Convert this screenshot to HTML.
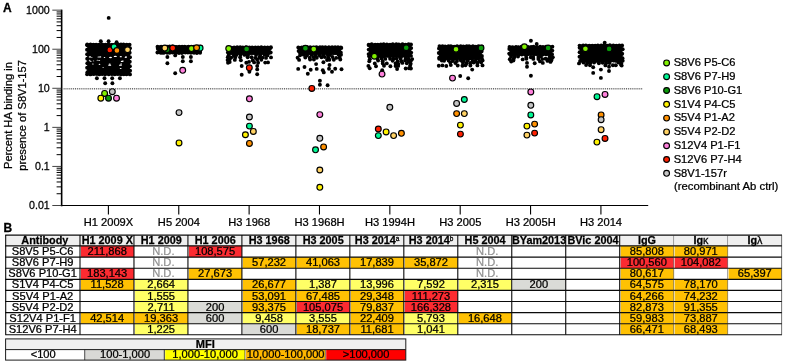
<!DOCTYPE html>
<html><head><meta charset="utf-8"><title>Figure</title>
<style>html,body{margin:0;padding:0;background:#fff}svg{display:block}</style>
</head><body>
<svg width="785" height="364" viewBox="0 0 785 364">
<rect width="785" height="364" fill="#fff"/>
<g transform="translate(0.2,0.2)">
<g fill="#000">
<circle cx="87.0" cy="44.2" r="1.95"/>
<circle cx="90.3" cy="44.2" r="1.95"/>
<circle cx="93.2" cy="44.4" r="1.95"/>
<circle cx="95.9" cy="44.5" r="1.95"/>
<circle cx="98.9" cy="44.4" r="1.95"/>
<circle cx="102.0" cy="44.2" r="1.95"/>
<circle cx="105.3" cy="44.6" r="1.95"/>
<circle cx="108.1" cy="44.3" r="1.95"/>
<circle cx="111.5" cy="44.7" r="1.95"/>
<circle cx="114.5" cy="44.4" r="1.95"/>
<circle cx="117.9" cy="44.2" r="1.95"/>
<circle cx="120.8" cy="44.3" r="1.95"/>
<circle cx="123.3" cy="44.2" r="1.95"/>
<circle cx="126.5" cy="44.6" r="1.95"/>
<circle cx="129.4" cy="44.5" r="1.95"/>
<circle cx="88.9" cy="45.1" r="1.95"/>
<circle cx="90.8" cy="45.1" r="1.95"/>
<circle cx="92.6" cy="45.1" r="1.95"/>
<circle cx="94.5" cy="45.1" r="1.95"/>
<circle cx="96.3" cy="45.1" r="1.95"/>
<circle cx="98.2" cy="45.1" r="1.95"/>
<circle cx="100.1" cy="45.1" r="1.95"/>
<circle cx="101.9" cy="45.1" r="1.95"/>
<circle cx="103.8" cy="45.1" r="1.95"/>
<circle cx="105.6" cy="45.1" r="1.95"/>
<circle cx="107.5" cy="45.1" r="1.95"/>
<circle cx="109.3" cy="45.1" r="1.95"/>
<circle cx="111.2" cy="45.1" r="1.95"/>
<circle cx="113.0" cy="45.1" r="1.95"/>
<circle cx="114.9" cy="45.1" r="1.95"/>
<circle cx="116.7" cy="45.1" r="1.95"/>
<circle cx="118.6" cy="45.1" r="1.95"/>
<circle cx="120.5" cy="45.1" r="1.95"/>
<circle cx="122.3" cy="45.1" r="1.95"/>
<circle cx="124.2" cy="45.1" r="1.95"/>
<circle cx="126.0" cy="45.1" r="1.95"/>
<circle cx="127.9" cy="45.1" r="1.95"/>
<circle cx="87.0" cy="45.1" r="1.95"/>
<circle cx="88.9" cy="46.6" r="1.95"/>
<circle cx="90.8" cy="46.6" r="1.95"/>
<circle cx="92.6" cy="46.6" r="1.95"/>
<circle cx="94.5" cy="46.6" r="1.95"/>
<circle cx="96.3" cy="46.6" r="1.95"/>
<circle cx="98.2" cy="46.6" r="1.95"/>
<circle cx="100.1" cy="46.6" r="1.95"/>
<circle cx="101.9" cy="46.6" r="1.95"/>
<circle cx="103.8" cy="46.6" r="1.95"/>
<circle cx="105.6" cy="46.6" r="1.95"/>
<circle cx="107.5" cy="46.6" r="1.95"/>
<circle cx="109.3" cy="46.6" r="1.95"/>
<circle cx="111.2" cy="46.6" r="1.95"/>
<circle cx="113.0" cy="46.6" r="1.95"/>
<circle cx="114.9" cy="46.6" r="1.95"/>
<circle cx="116.7" cy="46.6" r="1.95"/>
<circle cx="118.6" cy="46.6" r="1.95"/>
<circle cx="120.5" cy="46.6" r="1.95"/>
<circle cx="122.3" cy="46.6" r="1.95"/>
<circle cx="124.2" cy="46.6" r="1.95"/>
<circle cx="126.0" cy="46.6" r="1.95"/>
<circle cx="127.9" cy="46.6" r="1.95"/>
<circle cx="88.9" cy="48.1" r="1.95"/>
<circle cx="90.8" cy="48.1" r="1.95"/>
<circle cx="92.6" cy="48.1" r="1.95"/>
<circle cx="94.5" cy="48.1" r="1.95"/>
<circle cx="96.3" cy="48.1" r="1.95"/>
<circle cx="98.2" cy="48.1" r="1.95"/>
<circle cx="100.1" cy="48.1" r="1.95"/>
<circle cx="101.9" cy="48.1" r="1.95"/>
<circle cx="103.8" cy="48.1" r="1.95"/>
<circle cx="105.6" cy="48.1" r="1.95"/>
<circle cx="107.5" cy="48.1" r="1.95"/>
<circle cx="109.3" cy="48.1" r="1.95"/>
<circle cx="111.2" cy="48.1" r="1.95"/>
<circle cx="113.0" cy="48.1" r="1.95"/>
<circle cx="114.9" cy="48.1" r="1.95"/>
<circle cx="116.7" cy="48.1" r="1.95"/>
<circle cx="118.6" cy="48.1" r="1.95"/>
<circle cx="120.5" cy="48.1" r="1.95"/>
<circle cx="122.3" cy="48.1" r="1.95"/>
<circle cx="124.2" cy="48.1" r="1.95"/>
<circle cx="126.0" cy="48.1" r="1.95"/>
<circle cx="127.9" cy="48.1" r="1.95"/>
<circle cx="129.8" cy="48.1" r="1.95"/>
<circle cx="88.9" cy="49.6" r="1.95"/>
<circle cx="90.8" cy="49.6" r="1.95"/>
<circle cx="92.6" cy="49.6" r="1.95"/>
<circle cx="94.5" cy="49.6" r="1.95"/>
<circle cx="96.3" cy="49.6" r="1.95"/>
<circle cx="98.2" cy="49.6" r="1.95"/>
<circle cx="100.1" cy="49.6" r="1.95"/>
<circle cx="101.9" cy="49.6" r="1.95"/>
<circle cx="103.8" cy="49.6" r="1.95"/>
<circle cx="105.6" cy="49.6" r="1.95"/>
<circle cx="107.5" cy="49.6" r="1.95"/>
<circle cx="109.3" cy="49.6" r="1.95"/>
<circle cx="111.2" cy="49.6" r="1.95"/>
<circle cx="113.0" cy="49.6" r="1.95"/>
<circle cx="114.9" cy="49.6" r="1.95"/>
<circle cx="116.7" cy="49.6" r="1.95"/>
<circle cx="118.6" cy="49.6" r="1.95"/>
<circle cx="120.5" cy="49.6" r="1.95"/>
<circle cx="122.3" cy="49.6" r="1.95"/>
<circle cx="124.2" cy="49.6" r="1.95"/>
<circle cx="126.0" cy="49.6" r="1.95"/>
<circle cx="127.9" cy="49.6" r="1.95"/>
<circle cx="86.8" cy="49.6" r="1.95"/>
<circle cx="88.9" cy="51.1" r="1.95"/>
<circle cx="90.8" cy="51.1" r="1.95"/>
<circle cx="92.6" cy="51.1" r="1.95"/>
<circle cx="94.5" cy="51.1" r="1.95"/>
<circle cx="96.3" cy="51.1" r="1.95"/>
<circle cx="98.2" cy="51.1" r="1.95"/>
<circle cx="100.1" cy="51.1" r="1.95"/>
<circle cx="101.9" cy="51.1" r="1.95"/>
<circle cx="103.8" cy="51.1" r="1.95"/>
<circle cx="105.6" cy="51.1" r="1.95"/>
<circle cx="107.5" cy="51.1" r="1.95"/>
<circle cx="109.3" cy="51.1" r="1.95"/>
<circle cx="111.2" cy="51.1" r="1.95"/>
<circle cx="113.0" cy="51.1" r="1.95"/>
<circle cx="114.9" cy="51.1" r="1.95"/>
<circle cx="116.7" cy="51.1" r="1.95"/>
<circle cx="118.6" cy="51.1" r="1.95"/>
<circle cx="120.5" cy="51.1" r="1.95"/>
<circle cx="122.3" cy="51.1" r="1.95"/>
<circle cx="124.2" cy="51.1" r="1.95"/>
<circle cx="126.0" cy="51.1" r="1.95"/>
<circle cx="127.9" cy="51.1" r="1.95"/>
<circle cx="88.9" cy="52.6" r="1.95"/>
<circle cx="90.8" cy="52.6" r="1.95"/>
<circle cx="92.6" cy="52.6" r="1.95"/>
<circle cx="94.5" cy="52.6" r="1.95"/>
<circle cx="96.3" cy="52.6" r="1.95"/>
<circle cx="98.2" cy="52.6" r="1.95"/>
<circle cx="100.1" cy="52.6" r="1.95"/>
<circle cx="101.9" cy="52.6" r="1.95"/>
<circle cx="103.8" cy="52.6" r="1.95"/>
<circle cx="105.6" cy="52.6" r="1.95"/>
<circle cx="107.5" cy="52.6" r="1.95"/>
<circle cx="109.3" cy="52.6" r="1.95"/>
<circle cx="111.2" cy="52.6" r="1.95"/>
<circle cx="113.0" cy="52.6" r="1.95"/>
<circle cx="114.9" cy="52.6" r="1.95"/>
<circle cx="116.7" cy="52.6" r="1.95"/>
<circle cx="118.6" cy="52.6" r="1.95"/>
<circle cx="120.5" cy="52.6" r="1.95"/>
<circle cx="122.3" cy="52.6" r="1.95"/>
<circle cx="124.2" cy="52.6" r="1.95"/>
<circle cx="126.0" cy="52.6" r="1.95"/>
<circle cx="127.9" cy="52.6" r="1.95"/>
<circle cx="129.5" cy="52.6" r="1.95"/>
<circle cx="88.9" cy="54.1" r="1.95"/>
<circle cx="90.8" cy="54.1" r="1.95"/>
<circle cx="92.6" cy="54.1" r="1.95"/>
<circle cx="94.5" cy="54.1" r="1.95"/>
<circle cx="96.3" cy="54.1" r="1.95"/>
<circle cx="98.2" cy="54.1" r="1.95"/>
<circle cx="100.1" cy="54.1" r="1.95"/>
<circle cx="101.9" cy="54.1" r="1.95"/>
<circle cx="103.8" cy="54.1" r="1.95"/>
<circle cx="105.6" cy="54.1" r="1.95"/>
<circle cx="107.5" cy="54.1" r="1.95"/>
<circle cx="109.3" cy="54.1" r="1.95"/>
<circle cx="111.2" cy="54.1" r="1.95"/>
<circle cx="113.0" cy="54.1" r="1.95"/>
<circle cx="114.9" cy="54.1" r="1.95"/>
<circle cx="116.7" cy="54.1" r="1.95"/>
<circle cx="118.6" cy="54.1" r="1.95"/>
<circle cx="120.5" cy="54.1" r="1.95"/>
<circle cx="122.3" cy="54.1" r="1.95"/>
<circle cx="124.2" cy="54.1" r="1.95"/>
<circle cx="126.0" cy="54.1" r="1.95"/>
<circle cx="127.9" cy="54.1" r="1.95"/>
<circle cx="86.9" cy="54.1" r="1.95"/>
<circle cx="88.9" cy="55.6" r="1.95"/>
<circle cx="90.8" cy="55.6" r="1.95"/>
<circle cx="92.6" cy="55.6" r="1.95"/>
<circle cx="94.5" cy="55.6" r="1.95"/>
<circle cx="96.3" cy="55.6" r="1.95"/>
<circle cx="98.2" cy="55.6" r="1.95"/>
<circle cx="100.1" cy="55.6" r="1.95"/>
<circle cx="101.9" cy="55.6" r="1.95"/>
<circle cx="103.8" cy="55.6" r="1.95"/>
<circle cx="105.6" cy="55.6" r="1.95"/>
<circle cx="107.5" cy="55.6" r="1.95"/>
<circle cx="109.3" cy="55.6" r="1.95"/>
<circle cx="111.2" cy="55.6" r="1.95"/>
<circle cx="113.0" cy="55.6" r="1.95"/>
<circle cx="114.9" cy="55.6" r="1.95"/>
<circle cx="116.7" cy="55.6" r="1.95"/>
<circle cx="118.6" cy="55.6" r="1.95"/>
<circle cx="120.5" cy="55.6" r="1.95"/>
<circle cx="122.3" cy="55.6" r="1.95"/>
<circle cx="124.2" cy="55.6" r="1.95"/>
<circle cx="126.0" cy="55.6" r="1.95"/>
<circle cx="127.9" cy="55.6" r="1.95"/>
<circle cx="88.9" cy="57.1" r="1.95"/>
<circle cx="90.8" cy="57.1" r="1.95"/>
<circle cx="92.6" cy="57.1" r="1.95"/>
<circle cx="94.5" cy="57.1" r="1.95"/>
<circle cx="96.3" cy="57.1" r="1.95"/>
<circle cx="98.2" cy="57.1" r="1.95"/>
<circle cx="100.1" cy="57.1" r="1.95"/>
<circle cx="101.9" cy="57.1" r="1.95"/>
<circle cx="103.8" cy="57.1" r="1.95"/>
<circle cx="105.6" cy="57.1" r="1.95"/>
<circle cx="107.5" cy="57.1" r="1.95"/>
<circle cx="109.3" cy="57.1" r="1.95"/>
<circle cx="111.2" cy="57.1" r="1.95"/>
<circle cx="113.0" cy="57.1" r="1.95"/>
<circle cx="114.9" cy="57.1" r="1.95"/>
<circle cx="116.7" cy="57.1" r="1.95"/>
<circle cx="118.6" cy="57.1" r="1.95"/>
<circle cx="120.5" cy="57.1" r="1.95"/>
<circle cx="122.3" cy="57.1" r="1.95"/>
<circle cx="124.2" cy="57.1" r="1.95"/>
<circle cx="126.0" cy="57.1" r="1.95"/>
<circle cx="127.9" cy="57.1" r="1.95"/>
<circle cx="129.8" cy="57.1" r="1.95"/>
<circle cx="88.9" cy="58.6" r="1.95"/>
<circle cx="90.8" cy="58.6" r="1.95"/>
<circle cx="92.6" cy="58.6" r="1.95"/>
<circle cx="94.5" cy="58.6" r="1.95"/>
<circle cx="96.3" cy="58.6" r="1.95"/>
<circle cx="98.2" cy="58.6" r="1.95"/>
<circle cx="100.1" cy="58.6" r="1.95"/>
<circle cx="101.9" cy="58.6" r="1.95"/>
<circle cx="103.8" cy="58.6" r="1.95"/>
<circle cx="105.6" cy="58.6" r="1.95"/>
<circle cx="107.5" cy="58.6" r="1.95"/>
<circle cx="109.3" cy="58.6" r="1.95"/>
<circle cx="111.2" cy="58.6" r="1.95"/>
<circle cx="113.0" cy="58.6" r="1.95"/>
<circle cx="114.9" cy="58.6" r="1.95"/>
<circle cx="116.7" cy="58.6" r="1.95"/>
<circle cx="118.6" cy="58.6" r="1.95"/>
<circle cx="120.5" cy="58.6" r="1.95"/>
<circle cx="122.3" cy="58.6" r="1.95"/>
<circle cx="124.2" cy="58.6" r="1.95"/>
<circle cx="126.0" cy="58.6" r="1.95"/>
<circle cx="127.9" cy="58.6" r="1.95"/>
<circle cx="87.0" cy="58.6" r="1.95"/>
<circle cx="88.9" cy="60.1" r="1.95"/>
<circle cx="90.8" cy="60.1" r="1.95"/>
<circle cx="92.6" cy="60.1" r="1.95"/>
<circle cx="94.5" cy="60.1" r="1.95"/>
<circle cx="96.3" cy="60.1" r="1.95"/>
<circle cx="98.2" cy="60.1" r="1.95"/>
<circle cx="100.1" cy="60.1" r="1.95"/>
<circle cx="101.9" cy="60.1" r="1.95"/>
<circle cx="103.8" cy="60.1" r="1.95"/>
<circle cx="105.6" cy="60.1" r="1.95"/>
<circle cx="107.5" cy="60.1" r="1.95"/>
<circle cx="109.3" cy="60.1" r="1.95"/>
<circle cx="111.2" cy="60.1" r="1.95"/>
<circle cx="113.0" cy="60.1" r="1.95"/>
<circle cx="114.9" cy="60.1" r="1.95"/>
<circle cx="116.7" cy="60.1" r="1.95"/>
<circle cx="118.6" cy="60.1" r="1.95"/>
<circle cx="120.5" cy="60.1" r="1.95"/>
<circle cx="122.3" cy="60.1" r="1.95"/>
<circle cx="124.2" cy="60.1" r="1.95"/>
<circle cx="126.0" cy="60.1" r="1.95"/>
<circle cx="127.9" cy="60.1" r="1.95"/>
<circle cx="88.9" cy="61.6" r="1.95"/>
<circle cx="90.8" cy="61.6" r="1.95"/>
<circle cx="92.6" cy="61.6" r="1.95"/>
<circle cx="94.5" cy="61.6" r="1.95"/>
<circle cx="96.3" cy="61.6" r="1.95"/>
<circle cx="98.2" cy="61.6" r="1.95"/>
<circle cx="100.1" cy="61.6" r="1.95"/>
<circle cx="101.9" cy="61.6" r="1.95"/>
<circle cx="103.8" cy="61.6" r="1.95"/>
<circle cx="105.6" cy="61.6" r="1.95"/>
<circle cx="107.5" cy="61.6" r="1.95"/>
<circle cx="109.3" cy="61.6" r="1.95"/>
<circle cx="111.2" cy="61.6" r="1.95"/>
<circle cx="113.0" cy="61.6" r="1.95"/>
<circle cx="114.9" cy="61.6" r="1.95"/>
<circle cx="116.7" cy="61.6" r="1.95"/>
<circle cx="118.6" cy="61.6" r="1.95"/>
<circle cx="120.5" cy="61.6" r="1.95"/>
<circle cx="122.3" cy="61.6" r="1.95"/>
<circle cx="124.2" cy="61.6" r="1.95"/>
<circle cx="126.0" cy="61.6" r="1.95"/>
<circle cx="127.9" cy="61.6" r="1.95"/>
<circle cx="129.6" cy="61.6" r="1.95"/>
<circle cx="88.9" cy="63.1" r="1.95"/>
<circle cx="90.8" cy="63.1" r="1.95"/>
<circle cx="92.6" cy="63.1" r="1.95"/>
<circle cx="94.5" cy="63.1" r="1.95"/>
<circle cx="96.3" cy="63.1" r="1.95"/>
<circle cx="98.2" cy="63.1" r="1.95"/>
<circle cx="100.1" cy="63.1" r="1.95"/>
<circle cx="101.9" cy="63.1" r="1.95"/>
<circle cx="103.8" cy="63.1" r="1.95"/>
<circle cx="105.6" cy="63.1" r="1.95"/>
<circle cx="107.5" cy="63.1" r="1.95"/>
<circle cx="109.3" cy="63.1" r="1.95"/>
<circle cx="111.2" cy="63.1" r="1.95"/>
<circle cx="113.0" cy="63.1" r="1.95"/>
<circle cx="114.9" cy="63.1" r="1.95"/>
<circle cx="116.7" cy="63.1" r="1.95"/>
<circle cx="118.6" cy="63.1" r="1.95"/>
<circle cx="120.5" cy="63.1" r="1.95"/>
<circle cx="122.3" cy="63.1" r="1.95"/>
<circle cx="124.2" cy="63.1" r="1.95"/>
<circle cx="126.0" cy="63.1" r="1.95"/>
<circle cx="127.9" cy="63.1" r="1.95"/>
<circle cx="87.1" cy="63.1" r="1.95"/>
<circle cx="88.9" cy="64.6" r="1.95"/>
<circle cx="90.8" cy="64.6" r="1.95"/>
<circle cx="92.6" cy="64.6" r="1.95"/>
<circle cx="94.5" cy="64.6" r="1.95"/>
<circle cx="96.3" cy="64.6" r="1.95"/>
<circle cx="98.2" cy="64.6" r="1.95"/>
<circle cx="100.1" cy="64.6" r="1.95"/>
<circle cx="101.9" cy="64.6" r="1.95"/>
<circle cx="103.8" cy="64.6" r="1.95"/>
<circle cx="105.6" cy="64.6" r="1.95"/>
<circle cx="107.5" cy="64.6" r="1.95"/>
<circle cx="109.3" cy="64.6" r="1.95"/>
<circle cx="111.2" cy="64.6" r="1.95"/>
<circle cx="113.0" cy="64.6" r="1.95"/>
<circle cx="114.9" cy="64.6" r="1.95"/>
<circle cx="116.7" cy="64.6" r="1.95"/>
<circle cx="118.6" cy="64.6" r="1.95"/>
<circle cx="120.5" cy="64.6" r="1.95"/>
<circle cx="122.3" cy="64.6" r="1.95"/>
<circle cx="124.2" cy="64.6" r="1.95"/>
<circle cx="126.0" cy="64.6" r="1.95"/>
<circle cx="127.9" cy="64.6" r="1.95"/>
<circle cx="88.9" cy="66.1" r="1.95"/>
<circle cx="90.8" cy="66.1" r="1.95"/>
<circle cx="92.6" cy="66.1" r="1.95"/>
<circle cx="94.5" cy="66.1" r="1.95"/>
<circle cx="96.3" cy="66.1" r="1.95"/>
<circle cx="98.2" cy="66.1" r="1.95"/>
<circle cx="100.1" cy="66.1" r="1.95"/>
<circle cx="101.9" cy="66.1" r="1.95"/>
<circle cx="103.8" cy="66.1" r="1.95"/>
<circle cx="105.6" cy="66.1" r="1.95"/>
<circle cx="107.5" cy="66.1" r="1.95"/>
<circle cx="109.3" cy="66.1" r="1.95"/>
<circle cx="111.2" cy="66.1" r="1.95"/>
<circle cx="113.0" cy="66.1" r="1.95"/>
<circle cx="114.9" cy="66.1" r="1.95"/>
<circle cx="116.7" cy="66.1" r="1.95"/>
<circle cx="118.6" cy="66.1" r="1.95"/>
<circle cx="120.5" cy="66.1" r="1.95"/>
<circle cx="122.3" cy="66.1" r="1.95"/>
<circle cx="124.2" cy="66.1" r="1.95"/>
<circle cx="126.0" cy="66.1" r="1.95"/>
<circle cx="127.9" cy="66.1" r="1.95"/>
<circle cx="129.7" cy="66.1" r="1.95"/>
<circle cx="88.9" cy="67.6" r="1.95"/>
<circle cx="90.8" cy="67.6" r="1.95"/>
<circle cx="92.6" cy="67.6" r="1.95"/>
<circle cx="94.5" cy="67.6" r="1.95"/>
<circle cx="96.3" cy="67.6" r="1.95"/>
<circle cx="98.2" cy="67.6" r="1.95"/>
<circle cx="100.1" cy="67.6" r="1.95"/>
<circle cx="101.9" cy="67.6" r="1.95"/>
<circle cx="103.8" cy="67.6" r="1.95"/>
<circle cx="105.6" cy="67.6" r="1.95"/>
<circle cx="107.5" cy="67.6" r="1.95"/>
<circle cx="109.3" cy="67.6" r="1.95"/>
<circle cx="111.2" cy="67.6" r="1.95"/>
<circle cx="113.0" cy="67.6" r="1.95"/>
<circle cx="114.9" cy="67.6" r="1.95"/>
<circle cx="116.7" cy="67.6" r="1.95"/>
<circle cx="118.6" cy="67.6" r="1.95"/>
<circle cx="120.5" cy="67.6" r="1.95"/>
<circle cx="122.3" cy="67.6" r="1.95"/>
<circle cx="124.2" cy="67.6" r="1.95"/>
<circle cx="126.0" cy="67.6" r="1.95"/>
<circle cx="127.9" cy="67.6" r="1.95"/>
<circle cx="86.9" cy="67.6" r="1.95"/>
<circle cx="88.9" cy="69.1" r="1.95"/>
<circle cx="90.8" cy="69.1" r="1.95"/>
<circle cx="92.6" cy="69.1" r="1.95"/>
<circle cx="94.5" cy="69.1" r="1.95"/>
<circle cx="96.3" cy="69.1" r="1.95"/>
<circle cx="98.2" cy="69.1" r="1.95"/>
<circle cx="100.1" cy="69.1" r="1.95"/>
<circle cx="101.9" cy="69.1" r="1.95"/>
<circle cx="103.8" cy="69.1" r="1.95"/>
<circle cx="105.6" cy="69.1" r="1.95"/>
<circle cx="107.5" cy="69.1" r="1.95"/>
<circle cx="109.3" cy="69.1" r="1.95"/>
<circle cx="111.2" cy="69.1" r="1.95"/>
<circle cx="113.0" cy="69.1" r="1.95"/>
<circle cx="114.9" cy="69.1" r="1.95"/>
<circle cx="116.7" cy="69.1" r="1.95"/>
<circle cx="118.6" cy="69.1" r="1.95"/>
<circle cx="120.5" cy="69.1" r="1.95"/>
<circle cx="122.3" cy="69.1" r="1.95"/>
<circle cx="124.2" cy="69.1" r="1.95"/>
<circle cx="126.0" cy="69.1" r="1.95"/>
<circle cx="127.9" cy="69.1" r="1.95"/>
<circle cx="88.9" cy="70.6" r="1.95"/>
<circle cx="90.8" cy="70.6" r="1.95"/>
<circle cx="92.6" cy="70.6" r="1.95"/>
<circle cx="94.5" cy="70.6" r="1.95"/>
<circle cx="96.3" cy="70.6" r="1.95"/>
<circle cx="98.2" cy="70.6" r="1.95"/>
<circle cx="100.1" cy="70.6" r="1.95"/>
<circle cx="101.9" cy="70.6" r="1.95"/>
<circle cx="103.8" cy="70.6" r="1.95"/>
<circle cx="105.6" cy="70.6" r="1.95"/>
<circle cx="107.5" cy="70.6" r="1.95"/>
<circle cx="109.3" cy="70.6" r="1.95"/>
<circle cx="111.2" cy="70.6" r="1.95"/>
<circle cx="113.0" cy="70.6" r="1.95"/>
<circle cx="114.9" cy="70.6" r="1.95"/>
<circle cx="116.7" cy="70.6" r="1.95"/>
<circle cx="118.6" cy="70.6" r="1.95"/>
<circle cx="120.5" cy="70.6" r="1.95"/>
<circle cx="122.3" cy="70.6" r="1.95"/>
<circle cx="124.2" cy="70.6" r="1.95"/>
<circle cx="126.0" cy="70.6" r="1.95"/>
<circle cx="127.9" cy="70.6" r="1.95"/>
<circle cx="129.9" cy="70.6" r="1.95"/>
<circle cx="88.9" cy="72.1" r="1.95"/>
<circle cx="90.8" cy="72.1" r="1.95"/>
<circle cx="92.6" cy="72.1" r="1.95"/>
<circle cx="94.5" cy="72.1" r="1.95"/>
<circle cx="96.3" cy="72.1" r="1.95"/>
<circle cx="98.2" cy="72.1" r="1.95"/>
<circle cx="100.1" cy="72.1" r="1.95"/>
<circle cx="101.9" cy="72.1" r="1.95"/>
<circle cx="103.8" cy="72.1" r="1.95"/>
<circle cx="105.6" cy="72.1" r="1.95"/>
<circle cx="107.5" cy="72.1" r="1.95"/>
<circle cx="109.3" cy="72.1" r="1.95"/>
<circle cx="111.2" cy="72.1" r="1.95"/>
<circle cx="113.0" cy="72.1" r="1.95"/>
<circle cx="114.9" cy="72.1" r="1.95"/>
<circle cx="116.7" cy="72.1" r="1.95"/>
<circle cx="118.6" cy="72.1" r="1.95"/>
<circle cx="120.5" cy="72.1" r="1.95"/>
<circle cx="122.3" cy="72.1" r="1.95"/>
<circle cx="124.2" cy="72.1" r="1.95"/>
<circle cx="126.0" cy="72.1" r="1.95"/>
<circle cx="127.9" cy="72.1" r="1.95"/>
<circle cx="87.2" cy="72.1" r="1.95"/>
<circle cx="88.9" cy="73.3" r="1.95"/>
<circle cx="90.8" cy="73.3" r="1.95"/>
<circle cx="92.6" cy="73.3" r="1.95"/>
<circle cx="94.5" cy="73.3" r="1.95"/>
<circle cx="96.3" cy="73.3" r="1.95"/>
<circle cx="98.2" cy="73.3" r="1.95"/>
<circle cx="100.1" cy="73.3" r="1.95"/>
<circle cx="101.9" cy="73.3" r="1.95"/>
<circle cx="103.8" cy="73.3" r="1.95"/>
<circle cx="105.6" cy="73.3" r="1.95"/>
<circle cx="107.5" cy="73.3" r="1.95"/>
<circle cx="109.3" cy="73.3" r="1.95"/>
<circle cx="111.2" cy="73.3" r="1.95"/>
<circle cx="113.0" cy="73.3" r="1.95"/>
<circle cx="114.9" cy="73.3" r="1.95"/>
<circle cx="116.7" cy="73.3" r="1.95"/>
<circle cx="118.6" cy="73.3" r="1.95"/>
<circle cx="120.5" cy="73.3" r="1.95"/>
<circle cx="122.3" cy="73.3" r="1.95"/>
<circle cx="124.2" cy="73.3" r="1.95"/>
<circle cx="126.0" cy="73.3" r="1.95"/>
<circle cx="127.9" cy="73.3" r="1.95"/>
<circle cx="86.9" cy="74.0" r="1.95"/>
<circle cx="90.2" cy="74.2" r="1.95"/>
<circle cx="93.4" cy="73.8" r="1.95"/>
<circle cx="96.6" cy="73.7" r="1.95"/>
<circle cx="99.2" cy="74.1" r="1.95"/>
<circle cx="102.0" cy="73.9" r="1.95"/>
<circle cx="105.0" cy="74.1" r="1.95"/>
<circle cx="108.6" cy="74.0" r="1.95"/>
<circle cx="111.7" cy="73.8" r="1.95"/>
<circle cx="114.6" cy="74.0" r="1.95"/>
<circle cx="117.6" cy="73.9" r="1.95"/>
<circle cx="120.8" cy="74.2" r="1.95"/>
<circle cx="123.6" cy="74.0" r="1.95"/>
<circle cx="126.3" cy="74.1" r="1.95"/>
<circle cx="129.8" cy="74.2" r="1.95"/>
<circle cx="100.6" cy="41.0" r="1.95"/>
<circle cx="108.4" cy="41.0" r="1.95"/>
<circle cx="116.4" cy="42.0" r="1.95"/>
<circle cx="108.5" cy="17.7" r="1.95"/>
<circle cx="96.7" cy="78.0" r="1.95"/>
<circle cx="104.3" cy="78.0" r="1.95"/>
<circle cx="112.0" cy="78.0" r="1.95"/>
<circle cx="119.7" cy="78.0" r="1.95"/>
<circle cx="105.0" cy="83.1" r="1.95"/>
<circle cx="112.2" cy="83.1" r="1.95"/>
<circle cx="157.3" cy="46.6" r="1.95"/>
<circle cx="160.9" cy="46.4" r="1.95"/>
<circle cx="163.9" cy="46.7" r="1.95"/>
<circle cx="167.0" cy="46.4" r="1.95"/>
<circle cx="169.4" cy="46.3" r="1.95"/>
<circle cx="172.4" cy="46.3" r="1.95"/>
<circle cx="175.8" cy="46.7" r="1.95"/>
<circle cx="179.0" cy="46.4" r="1.95"/>
<circle cx="181.9" cy="46.6" r="1.95"/>
<circle cx="184.5" cy="46.5" r="1.95"/>
<circle cx="188.2" cy="46.6" r="1.95"/>
<circle cx="191.1" cy="46.4" r="1.95"/>
<circle cx="193.7" cy="46.6" r="1.95"/>
<circle cx="196.9" cy="46.6" r="1.95"/>
<circle cx="200.4" cy="46.4" r="1.95"/>
<circle cx="159.3" cy="47.1" r="1.95"/>
<circle cx="161.1" cy="47.1" r="1.95"/>
<circle cx="163.0" cy="47.1" r="1.95"/>
<circle cx="164.8" cy="47.1" r="1.95"/>
<circle cx="166.7" cy="47.1" r="1.95"/>
<circle cx="168.6" cy="47.1" r="1.95"/>
<circle cx="170.4" cy="47.1" r="1.95"/>
<circle cx="172.3" cy="47.1" r="1.95"/>
<circle cx="174.1" cy="47.1" r="1.95"/>
<circle cx="176.0" cy="47.1" r="1.95"/>
<circle cx="177.8" cy="47.1" r="1.95"/>
<circle cx="179.7" cy="47.1" r="1.95"/>
<circle cx="181.5" cy="47.1" r="1.95"/>
<circle cx="183.4" cy="47.1" r="1.95"/>
<circle cx="185.3" cy="47.1" r="1.95"/>
<circle cx="187.1" cy="47.1" r="1.95"/>
<circle cx="189.0" cy="47.1" r="1.95"/>
<circle cx="190.8" cy="47.1" r="1.95"/>
<circle cx="192.7" cy="47.1" r="1.95"/>
<circle cx="194.5" cy="47.1" r="1.95"/>
<circle cx="196.4" cy="47.1" r="1.95"/>
<circle cx="198.2" cy="47.1" r="1.95"/>
<circle cx="200.4" cy="47.1" r="1.95"/>
<circle cx="159.3" cy="48.6" r="1.95"/>
<circle cx="161.1" cy="48.6" r="1.95"/>
<circle cx="163.0" cy="48.6" r="1.95"/>
<circle cx="164.8" cy="48.6" r="1.95"/>
<circle cx="166.7" cy="48.6" r="1.95"/>
<circle cx="168.6" cy="48.6" r="1.95"/>
<circle cx="170.4" cy="48.6" r="1.95"/>
<circle cx="172.3" cy="48.6" r="1.95"/>
<circle cx="174.1" cy="48.6" r="1.95"/>
<circle cx="176.0" cy="48.6" r="1.95"/>
<circle cx="177.8" cy="48.6" r="1.95"/>
<circle cx="179.7" cy="48.6" r="1.95"/>
<circle cx="181.5" cy="48.6" r="1.95"/>
<circle cx="183.4" cy="48.6" r="1.95"/>
<circle cx="185.3" cy="48.6" r="1.95"/>
<circle cx="187.1" cy="48.6" r="1.95"/>
<circle cx="189.0" cy="48.6" r="1.95"/>
<circle cx="190.8" cy="48.6" r="1.95"/>
<circle cx="192.7" cy="48.6" r="1.95"/>
<circle cx="194.5" cy="48.6" r="1.95"/>
<circle cx="196.4" cy="48.6" r="1.95"/>
<circle cx="198.2" cy="48.6" r="1.95"/>
<circle cx="157.6" cy="48.6" r="1.95"/>
<circle cx="159.3" cy="50.1" r="1.95"/>
<circle cx="161.1" cy="50.1" r="1.95"/>
<circle cx="163.0" cy="50.1" r="1.95"/>
<circle cx="164.8" cy="50.1" r="1.95"/>
<circle cx="166.7" cy="50.1" r="1.95"/>
<circle cx="168.6" cy="50.1" r="1.95"/>
<circle cx="170.4" cy="50.1" r="1.95"/>
<circle cx="172.3" cy="50.1" r="1.95"/>
<circle cx="174.1" cy="50.1" r="1.95"/>
<circle cx="176.0" cy="50.1" r="1.95"/>
<circle cx="177.8" cy="50.1" r="1.95"/>
<circle cx="179.7" cy="50.1" r="1.95"/>
<circle cx="181.5" cy="50.1" r="1.95"/>
<circle cx="183.4" cy="50.1" r="1.95"/>
<circle cx="185.3" cy="50.1" r="1.95"/>
<circle cx="187.1" cy="50.1" r="1.95"/>
<circle cx="189.0" cy="50.1" r="1.95"/>
<circle cx="190.8" cy="50.1" r="1.95"/>
<circle cx="192.7" cy="50.1" r="1.95"/>
<circle cx="194.5" cy="50.1" r="1.95"/>
<circle cx="196.4" cy="50.1" r="1.95"/>
<circle cx="198.2" cy="50.1" r="1.95"/>
<circle cx="159.3" cy="51.6" r="1.95"/>
<circle cx="161.1" cy="51.6" r="1.95"/>
<circle cx="163.0" cy="51.6" r="1.95"/>
<circle cx="164.8" cy="51.6" r="1.95"/>
<circle cx="166.7" cy="51.6" r="1.95"/>
<circle cx="168.6" cy="51.6" r="1.95"/>
<circle cx="170.4" cy="51.6" r="1.95"/>
<circle cx="172.3" cy="51.6" r="1.95"/>
<circle cx="174.1" cy="51.6" r="1.95"/>
<circle cx="176.0" cy="51.6" r="1.95"/>
<circle cx="177.8" cy="51.6" r="1.95"/>
<circle cx="179.7" cy="51.6" r="1.95"/>
<circle cx="181.5" cy="51.6" r="1.95"/>
<circle cx="183.4" cy="51.6" r="1.95"/>
<circle cx="185.3" cy="51.6" r="1.95"/>
<circle cx="187.1" cy="51.6" r="1.95"/>
<circle cx="189.0" cy="51.6" r="1.95"/>
<circle cx="190.8" cy="51.6" r="1.95"/>
<circle cx="192.7" cy="51.6" r="1.95"/>
<circle cx="194.5" cy="51.6" r="1.95"/>
<circle cx="196.4" cy="51.6" r="1.95"/>
<circle cx="198.2" cy="51.6" r="1.95"/>
<circle cx="199.9" cy="51.6" r="1.95"/>
<circle cx="159.3" cy="51.9" r="1.95"/>
<circle cx="161.1" cy="51.9" r="1.95"/>
<circle cx="163.0" cy="51.9" r="1.95"/>
<circle cx="164.8" cy="51.9" r="1.95"/>
<circle cx="166.7" cy="51.9" r="1.95"/>
<circle cx="168.6" cy="51.9" r="1.95"/>
<circle cx="170.4" cy="51.9" r="1.95"/>
<circle cx="172.3" cy="51.9" r="1.95"/>
<circle cx="174.1" cy="51.9" r="1.95"/>
<circle cx="176.0" cy="51.9" r="1.95"/>
<circle cx="177.8" cy="51.9" r="1.95"/>
<circle cx="179.7" cy="51.9" r="1.95"/>
<circle cx="181.5" cy="51.9" r="1.95"/>
<circle cx="183.4" cy="51.9" r="1.95"/>
<circle cx="185.3" cy="51.9" r="1.95"/>
<circle cx="187.1" cy="51.9" r="1.95"/>
<circle cx="189.0" cy="51.9" r="1.95"/>
<circle cx="190.8" cy="51.9" r="1.95"/>
<circle cx="192.7" cy="51.9" r="1.95"/>
<circle cx="194.5" cy="51.9" r="1.95"/>
<circle cx="196.4" cy="51.9" r="1.95"/>
<circle cx="198.2" cy="51.9" r="1.95"/>
<circle cx="157.2" cy="52.3" r="1.95"/>
<circle cx="160.8" cy="52.7" r="1.95"/>
<circle cx="163.3" cy="52.7" r="1.95"/>
<circle cx="167.0" cy="52.6" r="1.95"/>
<circle cx="169.5" cy="52.6" r="1.95"/>
<circle cx="172.4" cy="52.3" r="1.95"/>
<circle cx="176.1" cy="52.6" r="1.95"/>
<circle cx="178.8" cy="52.8" r="1.95"/>
<circle cx="181.7" cy="52.8" r="1.95"/>
<circle cx="185.1" cy="52.4" r="1.95"/>
<circle cx="187.7" cy="52.4" r="1.95"/>
<circle cx="190.7" cy="52.6" r="1.95"/>
<circle cx="193.8" cy="52.5" r="1.95"/>
<circle cx="196.7" cy="52.8" r="1.95"/>
<circle cx="199.9" cy="52.5" r="1.95"/>
<circle cx="167.2" cy="56.8" r="1.95"/>
<circle cx="175.0" cy="55.2" r="1.95"/>
<circle cx="182.6" cy="56.8" r="1.95"/>
<circle cx="190.7" cy="56.8" r="1.95"/>
<circle cx="167.2" cy="63.0" r="1.95"/>
<circle cx="182.6" cy="61.0" r="1.95"/>
<circle cx="190.7" cy="61.0" r="1.95"/>
<circle cx="175.0" cy="73.0" r="1.95"/>
<circle cx="227.9" cy="47.4" r="1.95"/>
<circle cx="230.8" cy="47.4" r="1.95"/>
<circle cx="233.9" cy="47.2" r="1.95"/>
<circle cx="237.0" cy="46.9" r="1.95"/>
<circle cx="240.0" cy="47.0" r="1.95"/>
<circle cx="242.6" cy="47.3" r="1.95"/>
<circle cx="245.8" cy="47.1" r="1.95"/>
<circle cx="249.3" cy="47.2" r="1.95"/>
<circle cx="252.0" cy="47.2" r="1.95"/>
<circle cx="255.2" cy="47.3" r="1.95"/>
<circle cx="257.9" cy="47.2" r="1.95"/>
<circle cx="261.1" cy="47.0" r="1.95"/>
<circle cx="264.5" cy="47.2" r="1.95"/>
<circle cx="267.4" cy="47.3" r="1.95"/>
<circle cx="270.7" cy="47.1" r="1.95"/>
<circle cx="229.6" cy="47.8" r="1.95"/>
<circle cx="231.5" cy="47.8" r="1.95"/>
<circle cx="233.4" cy="47.8" r="1.95"/>
<circle cx="235.2" cy="47.8" r="1.95"/>
<circle cx="237.1" cy="47.8" r="1.95"/>
<circle cx="238.9" cy="47.8" r="1.95"/>
<circle cx="240.8" cy="47.8" r="1.95"/>
<circle cx="242.6" cy="47.8" r="1.95"/>
<circle cx="244.5" cy="47.8" r="1.95"/>
<circle cx="246.3" cy="47.8" r="1.95"/>
<circle cx="248.2" cy="47.8" r="1.95"/>
<circle cx="250.0" cy="47.8" r="1.95"/>
<circle cx="251.9" cy="47.8" r="1.95"/>
<circle cx="253.8" cy="47.8" r="1.95"/>
<circle cx="255.6" cy="47.8" r="1.95"/>
<circle cx="257.5" cy="47.8" r="1.95"/>
<circle cx="259.3" cy="47.8" r="1.95"/>
<circle cx="261.2" cy="47.8" r="1.95"/>
<circle cx="263.0" cy="47.8" r="1.95"/>
<circle cx="264.9" cy="47.8" r="1.95"/>
<circle cx="266.7" cy="47.8" r="1.95"/>
<circle cx="268.6" cy="47.8" r="1.95"/>
<circle cx="227.9" cy="47.8" r="1.95"/>
<circle cx="270.3" cy="47.8" r="1.95"/>
<circle cx="229.6" cy="49.3" r="1.95"/>
<circle cx="231.5" cy="49.3" r="1.95"/>
<circle cx="233.4" cy="49.3" r="1.95"/>
<circle cx="235.2" cy="49.3" r="1.95"/>
<circle cx="237.1" cy="49.3" r="1.95"/>
<circle cx="238.9" cy="49.3" r="1.95"/>
<circle cx="240.8" cy="49.3" r="1.95"/>
<circle cx="242.6" cy="49.3" r="1.95"/>
<circle cx="244.5" cy="49.3" r="1.95"/>
<circle cx="246.3" cy="49.3" r="1.95"/>
<circle cx="248.2" cy="49.3" r="1.95"/>
<circle cx="250.0" cy="49.3" r="1.95"/>
<circle cx="251.9" cy="49.3" r="1.95"/>
<circle cx="253.8" cy="49.3" r="1.95"/>
<circle cx="255.6" cy="49.3" r="1.95"/>
<circle cx="257.5" cy="49.3" r="1.95"/>
<circle cx="259.3" cy="49.3" r="1.95"/>
<circle cx="261.2" cy="49.3" r="1.95"/>
<circle cx="263.0" cy="49.3" r="1.95"/>
<circle cx="264.9" cy="49.3" r="1.95"/>
<circle cx="266.7" cy="49.3" r="1.95"/>
<circle cx="268.6" cy="49.3" r="1.95"/>
<circle cx="229.6" cy="50.8" r="1.95"/>
<circle cx="231.5" cy="50.8" r="1.95"/>
<circle cx="233.4" cy="50.8" r="1.95"/>
<circle cx="235.2" cy="50.8" r="1.95"/>
<circle cx="237.1" cy="50.8" r="1.95"/>
<circle cx="238.9" cy="50.8" r="1.95"/>
<circle cx="240.8" cy="50.8" r="1.95"/>
<circle cx="242.6" cy="50.8" r="1.95"/>
<circle cx="244.5" cy="50.8" r="1.95"/>
<circle cx="246.3" cy="50.8" r="1.95"/>
<circle cx="248.2" cy="50.8" r="1.95"/>
<circle cx="250.0" cy="50.8" r="1.95"/>
<circle cx="251.9" cy="50.8" r="1.95"/>
<circle cx="253.8" cy="50.8" r="1.95"/>
<circle cx="255.6" cy="50.8" r="1.95"/>
<circle cx="257.5" cy="50.8" r="1.95"/>
<circle cx="259.3" cy="50.8" r="1.95"/>
<circle cx="261.2" cy="50.8" r="1.95"/>
<circle cx="263.0" cy="50.8" r="1.95"/>
<circle cx="264.9" cy="50.8" r="1.95"/>
<circle cx="266.7" cy="50.8" r="1.95"/>
<circle cx="268.6" cy="50.8" r="1.95"/>
<circle cx="229.6" cy="52.3" r="1.95"/>
<circle cx="231.5" cy="52.3" r="1.95"/>
<circle cx="233.4" cy="52.3" r="1.95"/>
<circle cx="235.2" cy="52.3" r="1.95"/>
<circle cx="237.1" cy="52.3" r="1.95"/>
<circle cx="238.9" cy="52.3" r="1.95"/>
<circle cx="240.8" cy="52.3" r="1.95"/>
<circle cx="242.6" cy="52.3" r="1.95"/>
<circle cx="244.5" cy="52.3" r="1.95"/>
<circle cx="246.3" cy="52.3" r="1.95"/>
<circle cx="248.2" cy="52.3" r="1.95"/>
<circle cx="250.0" cy="52.3" r="1.95"/>
<circle cx="251.9" cy="52.3" r="1.95"/>
<circle cx="253.8" cy="52.3" r="1.95"/>
<circle cx="255.6" cy="52.3" r="1.95"/>
<circle cx="257.5" cy="52.3" r="1.95"/>
<circle cx="259.3" cy="52.3" r="1.95"/>
<circle cx="261.2" cy="52.3" r="1.95"/>
<circle cx="263.0" cy="52.3" r="1.95"/>
<circle cx="264.9" cy="52.3" r="1.95"/>
<circle cx="266.7" cy="52.3" r="1.95"/>
<circle cx="268.6" cy="52.3" r="1.95"/>
<circle cx="227.7" cy="52.3" r="1.95"/>
<circle cx="270.5" cy="52.3" r="1.95"/>
<circle cx="229.6" cy="52.9" r="1.95"/>
<circle cx="231.5" cy="52.9" r="1.95"/>
<circle cx="233.4" cy="52.9" r="1.95"/>
<circle cx="235.2" cy="52.9" r="1.95"/>
<circle cx="237.1" cy="52.9" r="1.95"/>
<circle cx="238.9" cy="52.9" r="1.95"/>
<circle cx="240.8" cy="52.9" r="1.95"/>
<circle cx="242.6" cy="52.9" r="1.95"/>
<circle cx="244.5" cy="52.9" r="1.95"/>
<circle cx="246.3" cy="52.9" r="1.95"/>
<circle cx="248.2" cy="52.9" r="1.95"/>
<circle cx="250.0" cy="52.9" r="1.95"/>
<circle cx="251.9" cy="52.9" r="1.95"/>
<circle cx="253.8" cy="52.9" r="1.95"/>
<circle cx="255.6" cy="52.9" r="1.95"/>
<circle cx="257.5" cy="52.9" r="1.95"/>
<circle cx="259.3" cy="52.9" r="1.95"/>
<circle cx="261.2" cy="52.9" r="1.95"/>
<circle cx="263.0" cy="52.9" r="1.95"/>
<circle cx="264.9" cy="52.9" r="1.95"/>
<circle cx="266.7" cy="52.9" r="1.95"/>
<circle cx="268.6" cy="52.9" r="1.95"/>
<circle cx="228.5" cy="55.0" r="1.95"/>
<circle cx="233.6" cy="55.4" r="1.95"/>
<circle cx="236.2" cy="54.9" r="1.95"/>
<circle cx="240.4" cy="54.8" r="1.95"/>
<circle cx="244.4" cy="54.7" r="1.95"/>
<circle cx="247.7" cy="55.3" r="1.95"/>
<circle cx="255.9" cy="54.8" r="1.95"/>
<circle cx="259.9" cy="55.2" r="1.95"/>
<circle cx="264.5" cy="54.7" r="1.95"/>
<circle cx="267.2" cy="55.2" r="1.95"/>
<circle cx="227.6" cy="57.0" r="1.95"/>
<circle cx="231.0" cy="57.4" r="1.95"/>
<circle cx="235.0" cy="57.4" r="1.95"/>
<circle cx="239.9" cy="57.0" r="1.95"/>
<circle cx="247.5" cy="57.0" r="1.95"/>
<circle cx="251.4" cy="57.1" r="1.95"/>
<circle cx="255.1" cy="57.7" r="1.95"/>
<circle cx="259.2" cy="57.3" r="1.95"/>
<circle cx="262.3" cy="57.4" r="1.95"/>
<circle cx="265.8" cy="57.7" r="1.95"/>
<circle cx="270.8" cy="57.2" r="1.95"/>
<circle cx="227.4" cy="59.9" r="1.95"/>
<circle cx="229.4" cy="59.4" r="1.95"/>
<circle cx="234.6" cy="59.7" r="1.95"/>
<circle cx="240.7" cy="60.0" r="1.95"/>
<circle cx="252.5" cy="60.2" r="1.95"/>
<circle cx="257.0" cy="59.5" r="1.95"/>
<circle cx="261.1" cy="59.6" r="1.95"/>
<circle cx="227.8" cy="62.5" r="1.95"/>
<circle cx="229.5" cy="61.9" r="1.95"/>
<circle cx="246.1" cy="62.5" r="1.95"/>
<circle cx="248.8" cy="61.7" r="1.95"/>
<circle cx="253.9" cy="62.2" r="1.95"/>
<circle cx="257.9" cy="62.5" r="1.95"/>
<circle cx="265.0" cy="62.4" r="1.95"/>
<circle cx="267.8" cy="62.2" r="1.95"/>
<circle cx="241.5" cy="65.8" r="1.95"/>
<circle cx="257.0" cy="65.8" r="1.95"/>
<circle cx="257.0" cy="69.2" r="1.95"/>
<circle cx="241.5" cy="74.5" r="1.95"/>
<circle cx="257.0" cy="74.0" r="1.95"/>
<circle cx="249.2" cy="71.6" r="1.95"/>
<circle cx="298.1" cy="47.2" r="1.95"/>
<circle cx="301.6" cy="47.2" r="1.95"/>
<circle cx="304.4" cy="46.9" r="1.95"/>
<circle cx="307.1" cy="47.0" r="1.95"/>
<circle cx="310.0" cy="47.1" r="1.95"/>
<circle cx="313.3" cy="47.4" r="1.95"/>
<circle cx="316.3" cy="46.9" r="1.95"/>
<circle cx="319.8" cy="47.0" r="1.95"/>
<circle cx="322.3" cy="47.1" r="1.95"/>
<circle cx="325.2" cy="47.0" r="1.95"/>
<circle cx="328.7" cy="47.0" r="1.95"/>
<circle cx="331.9" cy="46.9" r="1.95"/>
<circle cx="334.9" cy="46.9" r="1.95"/>
<circle cx="337.8" cy="47.1" r="1.95"/>
<circle cx="340.6" cy="47.2" r="1.95"/>
<circle cx="300.0" cy="47.8" r="1.95"/>
<circle cx="301.9" cy="47.8" r="1.95"/>
<circle cx="303.7" cy="47.8" r="1.95"/>
<circle cx="305.6" cy="47.8" r="1.95"/>
<circle cx="307.4" cy="47.8" r="1.95"/>
<circle cx="309.3" cy="47.8" r="1.95"/>
<circle cx="311.1" cy="47.8" r="1.95"/>
<circle cx="313.0" cy="47.8" r="1.95"/>
<circle cx="314.8" cy="47.8" r="1.95"/>
<circle cx="316.7" cy="47.8" r="1.95"/>
<circle cx="318.6" cy="47.8" r="1.95"/>
<circle cx="320.4" cy="47.8" r="1.95"/>
<circle cx="322.3" cy="47.8" r="1.95"/>
<circle cx="324.1" cy="47.8" r="1.95"/>
<circle cx="326.0" cy="47.8" r="1.95"/>
<circle cx="327.8" cy="47.8" r="1.95"/>
<circle cx="329.7" cy="47.8" r="1.95"/>
<circle cx="331.5" cy="47.8" r="1.95"/>
<circle cx="333.4" cy="47.8" r="1.95"/>
<circle cx="335.2" cy="47.8" r="1.95"/>
<circle cx="337.1" cy="47.8" r="1.95"/>
<circle cx="339.0" cy="47.8" r="1.95"/>
<circle cx="341.1" cy="47.8" r="1.95"/>
<circle cx="300.0" cy="49.3" r="1.95"/>
<circle cx="301.9" cy="49.3" r="1.95"/>
<circle cx="303.7" cy="49.3" r="1.95"/>
<circle cx="305.6" cy="49.3" r="1.95"/>
<circle cx="307.4" cy="49.3" r="1.95"/>
<circle cx="309.3" cy="49.3" r="1.95"/>
<circle cx="311.1" cy="49.3" r="1.95"/>
<circle cx="313.0" cy="49.3" r="1.95"/>
<circle cx="314.8" cy="49.3" r="1.95"/>
<circle cx="316.7" cy="49.3" r="1.95"/>
<circle cx="318.6" cy="49.3" r="1.95"/>
<circle cx="320.4" cy="49.3" r="1.95"/>
<circle cx="322.3" cy="49.3" r="1.95"/>
<circle cx="324.1" cy="49.3" r="1.95"/>
<circle cx="326.0" cy="49.3" r="1.95"/>
<circle cx="327.8" cy="49.3" r="1.95"/>
<circle cx="329.7" cy="49.3" r="1.95"/>
<circle cx="331.5" cy="49.3" r="1.95"/>
<circle cx="333.4" cy="49.3" r="1.95"/>
<circle cx="335.2" cy="49.3" r="1.95"/>
<circle cx="337.1" cy="49.3" r="1.95"/>
<circle cx="339.0" cy="49.3" r="1.95"/>
<circle cx="300.0" cy="50.8" r="1.95"/>
<circle cx="301.9" cy="50.8" r="1.95"/>
<circle cx="303.7" cy="50.8" r="1.95"/>
<circle cx="305.6" cy="50.8" r="1.95"/>
<circle cx="307.4" cy="50.8" r="1.95"/>
<circle cx="309.3" cy="50.8" r="1.95"/>
<circle cx="311.1" cy="50.8" r="1.95"/>
<circle cx="313.0" cy="50.8" r="1.95"/>
<circle cx="314.8" cy="50.8" r="1.95"/>
<circle cx="316.7" cy="50.8" r="1.95"/>
<circle cx="318.6" cy="50.8" r="1.95"/>
<circle cx="320.4" cy="50.8" r="1.95"/>
<circle cx="322.3" cy="50.8" r="1.95"/>
<circle cx="324.1" cy="50.8" r="1.95"/>
<circle cx="326.0" cy="50.8" r="1.95"/>
<circle cx="327.8" cy="50.8" r="1.95"/>
<circle cx="329.7" cy="50.8" r="1.95"/>
<circle cx="331.5" cy="50.8" r="1.95"/>
<circle cx="333.4" cy="50.8" r="1.95"/>
<circle cx="335.2" cy="50.8" r="1.95"/>
<circle cx="337.1" cy="50.8" r="1.95"/>
<circle cx="339.0" cy="50.8" r="1.95"/>
<circle cx="298.4" cy="50.8" r="1.95"/>
<circle cx="300.0" cy="52.3" r="1.95"/>
<circle cx="301.9" cy="52.3" r="1.95"/>
<circle cx="303.7" cy="52.3" r="1.95"/>
<circle cx="305.6" cy="52.3" r="1.95"/>
<circle cx="307.4" cy="52.3" r="1.95"/>
<circle cx="309.3" cy="52.3" r="1.95"/>
<circle cx="311.1" cy="52.3" r="1.95"/>
<circle cx="313.0" cy="52.3" r="1.95"/>
<circle cx="314.8" cy="52.3" r="1.95"/>
<circle cx="316.7" cy="52.3" r="1.95"/>
<circle cx="318.6" cy="52.3" r="1.95"/>
<circle cx="320.4" cy="52.3" r="1.95"/>
<circle cx="322.3" cy="52.3" r="1.95"/>
<circle cx="324.1" cy="52.3" r="1.95"/>
<circle cx="326.0" cy="52.3" r="1.95"/>
<circle cx="327.8" cy="52.3" r="1.95"/>
<circle cx="329.7" cy="52.3" r="1.95"/>
<circle cx="331.5" cy="52.3" r="1.95"/>
<circle cx="333.4" cy="52.3" r="1.95"/>
<circle cx="335.2" cy="52.3" r="1.95"/>
<circle cx="337.1" cy="52.3" r="1.95"/>
<circle cx="339.0" cy="52.3" r="1.95"/>
<circle cx="340.6" cy="52.3" r="1.95"/>
<circle cx="300.0" cy="52.9" r="1.95"/>
<circle cx="301.9" cy="52.9" r="1.95"/>
<circle cx="303.7" cy="52.9" r="1.95"/>
<circle cx="305.6" cy="52.9" r="1.95"/>
<circle cx="307.4" cy="52.9" r="1.95"/>
<circle cx="309.3" cy="52.9" r="1.95"/>
<circle cx="311.1" cy="52.9" r="1.95"/>
<circle cx="313.0" cy="52.9" r="1.95"/>
<circle cx="314.8" cy="52.9" r="1.95"/>
<circle cx="316.7" cy="52.9" r="1.95"/>
<circle cx="318.6" cy="52.9" r="1.95"/>
<circle cx="320.4" cy="52.9" r="1.95"/>
<circle cx="322.3" cy="52.9" r="1.95"/>
<circle cx="324.1" cy="52.9" r="1.95"/>
<circle cx="326.0" cy="52.9" r="1.95"/>
<circle cx="327.8" cy="52.9" r="1.95"/>
<circle cx="329.7" cy="52.9" r="1.95"/>
<circle cx="331.5" cy="52.9" r="1.95"/>
<circle cx="333.4" cy="52.9" r="1.95"/>
<circle cx="335.2" cy="52.9" r="1.95"/>
<circle cx="337.1" cy="52.9" r="1.95"/>
<circle cx="339.0" cy="52.9" r="1.95"/>
<circle cx="299.9" cy="55.1" r="1.95"/>
<circle cx="303.5" cy="54.6" r="1.95"/>
<circle cx="306.8" cy="55.1" r="1.95"/>
<circle cx="311.3" cy="54.7" r="1.95"/>
<circle cx="315.2" cy="55.2" r="1.95"/>
<circle cx="319.2" cy="55.1" r="1.95"/>
<circle cx="323.2" cy="55.1" r="1.95"/>
<circle cx="327.6" cy="54.9" r="1.95"/>
<circle cx="329.8" cy="54.9" r="1.95"/>
<circle cx="338.3" cy="54.4" r="1.95"/>
<circle cx="340.8" cy="54.5" r="1.95"/>
<circle cx="297.4" cy="57.6" r="1.95"/>
<circle cx="305.1" cy="57.4" r="1.95"/>
<circle cx="309.5" cy="57.5" r="1.95"/>
<circle cx="313.2" cy="56.9" r="1.95"/>
<circle cx="316.6" cy="57.5" r="1.95"/>
<circle cx="321.3" cy="57.0" r="1.95"/>
<circle cx="324.6" cy="56.9" r="1.95"/>
<circle cx="328.0" cy="57.4" r="1.95"/>
<circle cx="332.3" cy="56.8" r="1.95"/>
<circle cx="336.0" cy="57.7" r="1.95"/>
<circle cx="339.4" cy="57.2" r="1.95"/>
<circle cx="298.9" cy="59.7" r="1.95"/>
<circle cx="309.9" cy="59.4" r="1.95"/>
<circle cx="313.7" cy="59.4" r="1.95"/>
<circle cx="326.8" cy="59.8" r="1.95"/>
<circle cx="329.2" cy="59.6" r="1.95"/>
<circle cx="333.6" cy="59.5" r="1.95"/>
<circle cx="340.1" cy="59.3" r="1.95"/>
<circle cx="298.0" cy="68.7" r="1.95"/>
<circle cx="304.3" cy="66.8" r="1.95"/>
<circle cx="310.5" cy="69.6" r="1.95"/>
<circle cx="316.5" cy="68.7" r="1.95"/>
<circle cx="322.6" cy="70.0" r="1.95"/>
<circle cx="328.8" cy="68.5" r="1.95"/>
<circle cx="331.8" cy="71.5" r="1.95"/>
<circle cx="335.0" cy="68.5" r="1.95"/>
<circle cx="341.3" cy="69.0" r="1.95"/>
<circle cx="307.6" cy="73.5" r="1.95"/>
<circle cx="323.6" cy="72.2" r="1.95"/>
<circle cx="315.9" cy="63.9" r="1.95"/>
<circle cx="323.2" cy="62.0" r="1.95"/>
<circle cx="329.3" cy="64.8" r="1.95"/>
<circle cx="319.7" cy="80.6" r="1.95"/>
<circle cx="319.7" cy="84.5" r="1.95"/>
<circle cx="327.4" cy="85.0" r="1.95"/>
<circle cx="368.6" cy="44.5" r="1.95"/>
<circle cx="371.5" cy="44.0" r="1.95"/>
<circle cx="375.0" cy="44.4" r="1.95"/>
<circle cx="377.6" cy="44.4" r="1.95"/>
<circle cx="380.7" cy="44.2" r="1.95"/>
<circle cx="383.5" cy="44.1" r="1.95"/>
<circle cx="386.7" cy="44.2" r="1.95"/>
<circle cx="389.8" cy="44.5" r="1.95"/>
<circle cx="392.6" cy="44.0" r="1.95"/>
<circle cx="396.1" cy="44.1" r="1.95"/>
<circle cx="398.6" cy="44.2" r="1.95"/>
<circle cx="402.3" cy="44.0" r="1.95"/>
<circle cx="405.4" cy="44.4" r="1.95"/>
<circle cx="408.4" cy="44.1" r="1.95"/>
<circle cx="410.8" cy="44.3" r="1.95"/>
<circle cx="370.4" cy="44.9" r="1.95"/>
<circle cx="372.2" cy="44.9" r="1.95"/>
<circle cx="374.1" cy="44.9" r="1.95"/>
<circle cx="375.9" cy="44.9" r="1.95"/>
<circle cx="377.8" cy="44.9" r="1.95"/>
<circle cx="379.6" cy="44.9" r="1.95"/>
<circle cx="381.5" cy="44.9" r="1.95"/>
<circle cx="383.3" cy="44.9" r="1.95"/>
<circle cx="385.2" cy="44.9" r="1.95"/>
<circle cx="387.1" cy="44.9" r="1.95"/>
<circle cx="388.9" cy="44.9" r="1.95"/>
<circle cx="390.8" cy="44.9" r="1.95"/>
<circle cx="392.6" cy="44.9" r="1.95"/>
<circle cx="394.5" cy="44.9" r="1.95"/>
<circle cx="396.3" cy="44.9" r="1.95"/>
<circle cx="398.2" cy="44.9" r="1.95"/>
<circle cx="400.0" cy="44.9" r="1.95"/>
<circle cx="401.9" cy="44.9" r="1.95"/>
<circle cx="403.8" cy="44.9" r="1.95"/>
<circle cx="405.6" cy="44.9" r="1.95"/>
<circle cx="407.5" cy="44.9" r="1.95"/>
<circle cx="409.3" cy="44.9" r="1.95"/>
<circle cx="368.4" cy="44.9" r="1.95"/>
<circle cx="370.4" cy="46.4" r="1.95"/>
<circle cx="372.2" cy="46.4" r="1.95"/>
<circle cx="374.1" cy="46.4" r="1.95"/>
<circle cx="375.9" cy="46.4" r="1.95"/>
<circle cx="377.8" cy="46.4" r="1.95"/>
<circle cx="379.6" cy="46.4" r="1.95"/>
<circle cx="381.5" cy="46.4" r="1.95"/>
<circle cx="383.3" cy="46.4" r="1.95"/>
<circle cx="385.2" cy="46.4" r="1.95"/>
<circle cx="387.1" cy="46.4" r="1.95"/>
<circle cx="388.9" cy="46.4" r="1.95"/>
<circle cx="390.8" cy="46.4" r="1.95"/>
<circle cx="392.6" cy="46.4" r="1.95"/>
<circle cx="394.5" cy="46.4" r="1.95"/>
<circle cx="396.3" cy="46.4" r="1.95"/>
<circle cx="398.2" cy="46.4" r="1.95"/>
<circle cx="400.0" cy="46.4" r="1.95"/>
<circle cx="401.9" cy="46.4" r="1.95"/>
<circle cx="403.8" cy="46.4" r="1.95"/>
<circle cx="405.6" cy="46.4" r="1.95"/>
<circle cx="407.5" cy="46.4" r="1.95"/>
<circle cx="409.3" cy="46.4" r="1.95"/>
<circle cx="370.4" cy="47.9" r="1.95"/>
<circle cx="372.2" cy="47.9" r="1.95"/>
<circle cx="374.1" cy="47.9" r="1.95"/>
<circle cx="375.9" cy="47.9" r="1.95"/>
<circle cx="377.8" cy="47.9" r="1.95"/>
<circle cx="379.6" cy="47.9" r="1.95"/>
<circle cx="381.5" cy="47.9" r="1.95"/>
<circle cx="383.3" cy="47.9" r="1.95"/>
<circle cx="385.2" cy="47.9" r="1.95"/>
<circle cx="387.1" cy="47.9" r="1.95"/>
<circle cx="388.9" cy="47.9" r="1.95"/>
<circle cx="390.8" cy="47.9" r="1.95"/>
<circle cx="392.6" cy="47.9" r="1.95"/>
<circle cx="394.5" cy="47.9" r="1.95"/>
<circle cx="396.3" cy="47.9" r="1.95"/>
<circle cx="398.2" cy="47.9" r="1.95"/>
<circle cx="400.0" cy="47.9" r="1.95"/>
<circle cx="401.9" cy="47.9" r="1.95"/>
<circle cx="403.8" cy="47.9" r="1.95"/>
<circle cx="405.6" cy="47.9" r="1.95"/>
<circle cx="407.5" cy="47.9" r="1.95"/>
<circle cx="409.3" cy="47.9" r="1.95"/>
<circle cx="411.0" cy="47.9" r="1.95"/>
<circle cx="370.4" cy="49.4" r="1.95"/>
<circle cx="372.2" cy="49.4" r="1.95"/>
<circle cx="374.1" cy="49.4" r="1.95"/>
<circle cx="375.9" cy="49.4" r="1.95"/>
<circle cx="377.8" cy="49.4" r="1.95"/>
<circle cx="379.6" cy="49.4" r="1.95"/>
<circle cx="381.5" cy="49.4" r="1.95"/>
<circle cx="383.3" cy="49.4" r="1.95"/>
<circle cx="385.2" cy="49.4" r="1.95"/>
<circle cx="387.1" cy="49.4" r="1.95"/>
<circle cx="388.9" cy="49.4" r="1.95"/>
<circle cx="390.8" cy="49.4" r="1.95"/>
<circle cx="392.6" cy="49.4" r="1.95"/>
<circle cx="394.5" cy="49.4" r="1.95"/>
<circle cx="396.3" cy="49.4" r="1.95"/>
<circle cx="398.2" cy="49.4" r="1.95"/>
<circle cx="400.0" cy="49.4" r="1.95"/>
<circle cx="401.9" cy="49.4" r="1.95"/>
<circle cx="403.8" cy="49.4" r="1.95"/>
<circle cx="405.6" cy="49.4" r="1.95"/>
<circle cx="407.5" cy="49.4" r="1.95"/>
<circle cx="409.3" cy="49.4" r="1.95"/>
<circle cx="368.5" cy="49.4" r="1.95"/>
<circle cx="370.4" cy="50.9" r="1.95"/>
<circle cx="372.2" cy="50.9" r="1.95"/>
<circle cx="374.1" cy="50.9" r="1.95"/>
<circle cx="375.9" cy="50.9" r="1.95"/>
<circle cx="377.8" cy="50.9" r="1.95"/>
<circle cx="379.6" cy="50.9" r="1.95"/>
<circle cx="381.5" cy="50.9" r="1.95"/>
<circle cx="383.3" cy="50.9" r="1.95"/>
<circle cx="385.2" cy="50.9" r="1.95"/>
<circle cx="387.1" cy="50.9" r="1.95"/>
<circle cx="388.9" cy="50.9" r="1.95"/>
<circle cx="390.8" cy="50.9" r="1.95"/>
<circle cx="392.6" cy="50.9" r="1.95"/>
<circle cx="394.5" cy="50.9" r="1.95"/>
<circle cx="396.3" cy="50.9" r="1.95"/>
<circle cx="398.2" cy="50.9" r="1.95"/>
<circle cx="400.0" cy="50.9" r="1.95"/>
<circle cx="401.9" cy="50.9" r="1.95"/>
<circle cx="403.8" cy="50.9" r="1.95"/>
<circle cx="405.6" cy="50.9" r="1.95"/>
<circle cx="407.5" cy="50.9" r="1.95"/>
<circle cx="409.3" cy="50.9" r="1.95"/>
<circle cx="370.4" cy="52.4" r="1.95"/>
<circle cx="372.2" cy="52.4" r="1.95"/>
<circle cx="374.1" cy="52.4" r="1.95"/>
<circle cx="375.9" cy="52.4" r="1.95"/>
<circle cx="377.8" cy="52.4" r="1.95"/>
<circle cx="379.6" cy="52.4" r="1.95"/>
<circle cx="381.5" cy="52.4" r="1.95"/>
<circle cx="383.3" cy="52.4" r="1.95"/>
<circle cx="385.2" cy="52.4" r="1.95"/>
<circle cx="387.1" cy="52.4" r="1.95"/>
<circle cx="388.9" cy="52.4" r="1.95"/>
<circle cx="390.8" cy="52.4" r="1.95"/>
<circle cx="392.6" cy="52.4" r="1.95"/>
<circle cx="394.5" cy="52.4" r="1.95"/>
<circle cx="396.3" cy="52.4" r="1.95"/>
<circle cx="398.2" cy="52.4" r="1.95"/>
<circle cx="400.0" cy="52.4" r="1.95"/>
<circle cx="401.9" cy="52.4" r="1.95"/>
<circle cx="403.8" cy="52.4" r="1.95"/>
<circle cx="405.6" cy="52.4" r="1.95"/>
<circle cx="407.5" cy="52.4" r="1.95"/>
<circle cx="409.3" cy="52.4" r="1.95"/>
<circle cx="411.0" cy="52.4" r="1.95"/>
<circle cx="370.4" cy="53.9" r="1.95"/>
<circle cx="372.2" cy="53.9" r="1.95"/>
<circle cx="374.1" cy="53.9" r="1.95"/>
<circle cx="375.9" cy="53.9" r="1.95"/>
<circle cx="377.8" cy="53.9" r="1.95"/>
<circle cx="379.6" cy="53.9" r="1.95"/>
<circle cx="381.5" cy="53.9" r="1.95"/>
<circle cx="383.3" cy="53.9" r="1.95"/>
<circle cx="385.2" cy="53.9" r="1.95"/>
<circle cx="387.1" cy="53.9" r="1.95"/>
<circle cx="388.9" cy="53.9" r="1.95"/>
<circle cx="390.8" cy="53.9" r="1.95"/>
<circle cx="392.6" cy="53.9" r="1.95"/>
<circle cx="394.5" cy="53.9" r="1.95"/>
<circle cx="396.3" cy="53.9" r="1.95"/>
<circle cx="398.2" cy="53.9" r="1.95"/>
<circle cx="400.0" cy="53.9" r="1.95"/>
<circle cx="401.9" cy="53.9" r="1.95"/>
<circle cx="403.8" cy="53.9" r="1.95"/>
<circle cx="405.6" cy="53.9" r="1.95"/>
<circle cx="407.5" cy="53.9" r="1.95"/>
<circle cx="409.3" cy="53.9" r="1.95"/>
<circle cx="368.4" cy="53.9" r="1.95"/>
<circle cx="370.4" cy="55.2" r="1.95"/>
<circle cx="372.2" cy="55.2" r="1.95"/>
<circle cx="374.1" cy="55.2" r="1.95"/>
<circle cx="375.9" cy="55.2" r="1.95"/>
<circle cx="377.8" cy="55.2" r="1.95"/>
<circle cx="379.6" cy="55.2" r="1.95"/>
<circle cx="381.5" cy="55.2" r="1.95"/>
<circle cx="383.3" cy="55.2" r="1.95"/>
<circle cx="385.2" cy="55.2" r="1.95"/>
<circle cx="387.1" cy="55.2" r="1.95"/>
<circle cx="388.9" cy="55.2" r="1.95"/>
<circle cx="390.8" cy="55.2" r="1.95"/>
<circle cx="392.6" cy="55.2" r="1.95"/>
<circle cx="394.5" cy="55.2" r="1.95"/>
<circle cx="396.3" cy="55.2" r="1.95"/>
<circle cx="398.2" cy="55.2" r="1.95"/>
<circle cx="400.0" cy="55.2" r="1.95"/>
<circle cx="401.9" cy="55.2" r="1.95"/>
<circle cx="403.8" cy="55.2" r="1.95"/>
<circle cx="405.6" cy="55.2" r="1.95"/>
<circle cx="407.5" cy="55.2" r="1.95"/>
<circle cx="409.3" cy="55.2" r="1.95"/>
<circle cx="368.9" cy="56.1" r="1.95"/>
<circle cx="371.8" cy="55.9" r="1.95"/>
<circle cx="375.0" cy="56.1" r="1.95"/>
<circle cx="377.7" cy="56.0" r="1.95"/>
<circle cx="380.4" cy="56.0" r="1.95"/>
<circle cx="383.7" cy="56.0" r="1.95"/>
<circle cx="386.9" cy="55.7" r="1.95"/>
<circle cx="389.5" cy="56.1" r="1.95"/>
<circle cx="392.6" cy="55.8" r="1.95"/>
<circle cx="395.8" cy="55.7" r="1.95"/>
<circle cx="399.2" cy="56.1" r="1.95"/>
<circle cx="401.8" cy="55.9" r="1.95"/>
<circle cx="404.9" cy="55.9" r="1.95"/>
<circle cx="408.0" cy="55.7" r="1.95"/>
<circle cx="410.8" cy="55.7" r="1.95"/>
<circle cx="369.6" cy="59.0" r="1.95"/>
<circle cx="377.2" cy="58.3" r="1.95"/>
<circle cx="381.4" cy="58.2" r="1.95"/>
<circle cx="385.1" cy="58.7" r="1.95"/>
<circle cx="389.9" cy="58.5" r="1.95"/>
<circle cx="393.4" cy="58.5" r="1.95"/>
<circle cx="396.4" cy="58.4" r="1.95"/>
<circle cx="400.4" cy="58.6" r="1.95"/>
<circle cx="405.6" cy="58.3" r="1.95"/>
<circle cx="408.3" cy="58.5" r="1.95"/>
<circle cx="412.0" cy="58.9" r="1.95"/>
<circle cx="369.1" cy="61.0" r="1.95"/>
<circle cx="377.9" cy="60.3" r="1.95"/>
<circle cx="382.4" cy="61.1" r="1.95"/>
<circle cx="392.5" cy="60.5" r="1.95"/>
<circle cx="397.4" cy="61.2" r="1.95"/>
<circle cx="401.2" cy="61.1" r="1.95"/>
<circle cx="404.9" cy="60.3" r="1.95"/>
<circle cx="408.2" cy="61.2" r="1.95"/>
<circle cx="410.8" cy="60.4" r="1.95"/>
<circle cx="374.6" cy="63.2" r="1.95"/>
<circle cx="382.6" cy="63.3" r="1.95"/>
<circle cx="386.6" cy="63.2" r="1.95"/>
<circle cx="395.4" cy="63.2" r="1.95"/>
<circle cx="398.1" cy="63.7" r="1.95"/>
<circle cx="402.1" cy="62.7" r="1.95"/>
<circle cx="406.6" cy="63.1" r="1.95"/>
<circle cx="410.5" cy="63.6" r="1.95"/>
<circle cx="368.2" cy="65.7" r="1.95"/>
<circle cx="375.8" cy="66.0" r="1.95"/>
<circle cx="383.8" cy="65.6" r="1.95"/>
<circle cx="390.2" cy="66.1" r="1.95"/>
<circle cx="395.4" cy="65.8" r="1.95"/>
<circle cx="398.0" cy="65.7" r="1.95"/>
<circle cx="409.9" cy="65.5" r="1.95"/>
<circle cx="369.5" cy="68.0" r="1.95"/>
<circle cx="396.9" cy="68.8" r="1.95"/>
<circle cx="405.5" cy="68.3" r="1.95"/>
<circle cx="408.8" cy="68.1" r="1.95"/>
<circle cx="410.7" cy="68.3" r="1.95"/>
<circle cx="382.0" cy="70.0" r="1.95"/>
<circle cx="439.3" cy="45.9" r="1.95"/>
<circle cx="442.3" cy="46.0" r="1.95"/>
<circle cx="444.9" cy="46.3" r="1.95"/>
<circle cx="448.3" cy="46.1" r="1.95"/>
<circle cx="450.7" cy="46.1" r="1.95"/>
<circle cx="454.0" cy="46.4" r="1.95"/>
<circle cx="456.9" cy="46.1" r="1.95"/>
<circle cx="460.5" cy="45.9" r="1.95"/>
<circle cx="463.2" cy="46.3" r="1.95"/>
<circle cx="466.5" cy="45.9" r="1.95"/>
<circle cx="468.9" cy="45.9" r="1.95"/>
<circle cx="472.7" cy="46.0" r="1.95"/>
<circle cx="475.6" cy="46.4" r="1.95"/>
<circle cx="478.3" cy="46.0" r="1.95"/>
<circle cx="481.8" cy="46.2" r="1.95"/>
<circle cx="440.7" cy="46.8" r="1.95"/>
<circle cx="442.6" cy="46.8" r="1.95"/>
<circle cx="444.4" cy="46.8" r="1.95"/>
<circle cx="446.3" cy="46.8" r="1.95"/>
<circle cx="448.1" cy="46.8" r="1.95"/>
<circle cx="450.0" cy="46.8" r="1.95"/>
<circle cx="451.9" cy="46.8" r="1.95"/>
<circle cx="453.7" cy="46.8" r="1.95"/>
<circle cx="455.6" cy="46.8" r="1.95"/>
<circle cx="457.4" cy="46.8" r="1.95"/>
<circle cx="459.3" cy="46.8" r="1.95"/>
<circle cx="461.1" cy="46.8" r="1.95"/>
<circle cx="463.0" cy="46.8" r="1.95"/>
<circle cx="464.8" cy="46.8" r="1.95"/>
<circle cx="466.7" cy="46.8" r="1.95"/>
<circle cx="468.5" cy="46.8" r="1.95"/>
<circle cx="470.4" cy="46.8" r="1.95"/>
<circle cx="472.3" cy="46.8" r="1.95"/>
<circle cx="474.1" cy="46.8" r="1.95"/>
<circle cx="476.0" cy="46.8" r="1.95"/>
<circle cx="477.8" cy="46.8" r="1.95"/>
<circle cx="479.7" cy="46.8" r="1.95"/>
<circle cx="481.7" cy="46.8" r="1.95"/>
<circle cx="440.7" cy="48.3" r="1.95"/>
<circle cx="442.6" cy="48.3" r="1.95"/>
<circle cx="444.4" cy="48.3" r="1.95"/>
<circle cx="446.3" cy="48.3" r="1.95"/>
<circle cx="448.1" cy="48.3" r="1.95"/>
<circle cx="450.0" cy="48.3" r="1.95"/>
<circle cx="451.9" cy="48.3" r="1.95"/>
<circle cx="453.7" cy="48.3" r="1.95"/>
<circle cx="455.6" cy="48.3" r="1.95"/>
<circle cx="457.4" cy="48.3" r="1.95"/>
<circle cx="459.3" cy="48.3" r="1.95"/>
<circle cx="461.1" cy="48.3" r="1.95"/>
<circle cx="463.0" cy="48.3" r="1.95"/>
<circle cx="464.8" cy="48.3" r="1.95"/>
<circle cx="466.7" cy="48.3" r="1.95"/>
<circle cx="468.5" cy="48.3" r="1.95"/>
<circle cx="470.4" cy="48.3" r="1.95"/>
<circle cx="472.3" cy="48.3" r="1.95"/>
<circle cx="474.1" cy="48.3" r="1.95"/>
<circle cx="476.0" cy="48.3" r="1.95"/>
<circle cx="477.8" cy="48.3" r="1.95"/>
<circle cx="479.7" cy="48.3" r="1.95"/>
<circle cx="438.8" cy="48.3" r="1.95"/>
<circle cx="440.7" cy="49.8" r="1.95"/>
<circle cx="442.6" cy="49.8" r="1.95"/>
<circle cx="444.4" cy="49.8" r="1.95"/>
<circle cx="446.3" cy="49.8" r="1.95"/>
<circle cx="448.1" cy="49.8" r="1.95"/>
<circle cx="450.0" cy="49.8" r="1.95"/>
<circle cx="451.9" cy="49.8" r="1.95"/>
<circle cx="453.7" cy="49.8" r="1.95"/>
<circle cx="455.6" cy="49.8" r="1.95"/>
<circle cx="457.4" cy="49.8" r="1.95"/>
<circle cx="459.3" cy="49.8" r="1.95"/>
<circle cx="461.1" cy="49.8" r="1.95"/>
<circle cx="463.0" cy="49.8" r="1.95"/>
<circle cx="464.8" cy="49.8" r="1.95"/>
<circle cx="466.7" cy="49.8" r="1.95"/>
<circle cx="468.5" cy="49.8" r="1.95"/>
<circle cx="470.4" cy="49.8" r="1.95"/>
<circle cx="472.3" cy="49.8" r="1.95"/>
<circle cx="474.1" cy="49.8" r="1.95"/>
<circle cx="476.0" cy="49.8" r="1.95"/>
<circle cx="477.8" cy="49.8" r="1.95"/>
<circle cx="479.7" cy="49.8" r="1.95"/>
<circle cx="440.7" cy="51.3" r="1.95"/>
<circle cx="442.6" cy="51.3" r="1.95"/>
<circle cx="444.4" cy="51.3" r="1.95"/>
<circle cx="446.3" cy="51.3" r="1.95"/>
<circle cx="448.1" cy="51.3" r="1.95"/>
<circle cx="450.0" cy="51.3" r="1.95"/>
<circle cx="451.9" cy="51.3" r="1.95"/>
<circle cx="453.7" cy="51.3" r="1.95"/>
<circle cx="455.6" cy="51.3" r="1.95"/>
<circle cx="457.4" cy="51.3" r="1.95"/>
<circle cx="459.3" cy="51.3" r="1.95"/>
<circle cx="461.1" cy="51.3" r="1.95"/>
<circle cx="463.0" cy="51.3" r="1.95"/>
<circle cx="464.8" cy="51.3" r="1.95"/>
<circle cx="466.7" cy="51.3" r="1.95"/>
<circle cx="468.5" cy="51.3" r="1.95"/>
<circle cx="470.4" cy="51.3" r="1.95"/>
<circle cx="472.3" cy="51.3" r="1.95"/>
<circle cx="474.1" cy="51.3" r="1.95"/>
<circle cx="476.0" cy="51.3" r="1.95"/>
<circle cx="477.8" cy="51.3" r="1.95"/>
<circle cx="479.7" cy="51.3" r="1.95"/>
<circle cx="481.4" cy="51.3" r="1.95"/>
<circle cx="440.7" cy="52.8" r="1.95"/>
<circle cx="442.6" cy="52.8" r="1.95"/>
<circle cx="444.4" cy="52.8" r="1.95"/>
<circle cx="446.3" cy="52.8" r="1.95"/>
<circle cx="448.1" cy="52.8" r="1.95"/>
<circle cx="450.0" cy="52.8" r="1.95"/>
<circle cx="451.9" cy="52.8" r="1.95"/>
<circle cx="453.7" cy="52.8" r="1.95"/>
<circle cx="455.6" cy="52.8" r="1.95"/>
<circle cx="457.4" cy="52.8" r="1.95"/>
<circle cx="459.3" cy="52.8" r="1.95"/>
<circle cx="461.1" cy="52.8" r="1.95"/>
<circle cx="463.0" cy="52.8" r="1.95"/>
<circle cx="464.8" cy="52.8" r="1.95"/>
<circle cx="466.7" cy="52.8" r="1.95"/>
<circle cx="468.5" cy="52.8" r="1.95"/>
<circle cx="470.4" cy="52.8" r="1.95"/>
<circle cx="472.3" cy="52.8" r="1.95"/>
<circle cx="474.1" cy="52.8" r="1.95"/>
<circle cx="476.0" cy="52.8" r="1.95"/>
<circle cx="477.8" cy="52.8" r="1.95"/>
<circle cx="479.7" cy="52.8" r="1.95"/>
<circle cx="438.6" cy="52.8" r="1.95"/>
<circle cx="440.7" cy="54.3" r="1.95"/>
<circle cx="442.6" cy="54.3" r="1.95"/>
<circle cx="444.4" cy="54.3" r="1.95"/>
<circle cx="446.3" cy="54.3" r="1.95"/>
<circle cx="448.1" cy="54.3" r="1.95"/>
<circle cx="450.0" cy="54.3" r="1.95"/>
<circle cx="451.9" cy="54.3" r="1.95"/>
<circle cx="453.7" cy="54.3" r="1.95"/>
<circle cx="455.6" cy="54.3" r="1.95"/>
<circle cx="457.4" cy="54.3" r="1.95"/>
<circle cx="459.3" cy="54.3" r="1.95"/>
<circle cx="461.1" cy="54.3" r="1.95"/>
<circle cx="463.0" cy="54.3" r="1.95"/>
<circle cx="464.8" cy="54.3" r="1.95"/>
<circle cx="466.7" cy="54.3" r="1.95"/>
<circle cx="468.5" cy="54.3" r="1.95"/>
<circle cx="470.4" cy="54.3" r="1.95"/>
<circle cx="472.3" cy="54.3" r="1.95"/>
<circle cx="474.1" cy="54.3" r="1.95"/>
<circle cx="476.0" cy="54.3" r="1.95"/>
<circle cx="477.8" cy="54.3" r="1.95"/>
<circle cx="479.7" cy="54.3" r="1.95"/>
<circle cx="440.7" cy="55.8" r="1.95"/>
<circle cx="442.6" cy="55.8" r="1.95"/>
<circle cx="444.4" cy="55.8" r="1.95"/>
<circle cx="446.3" cy="55.8" r="1.95"/>
<circle cx="448.1" cy="55.8" r="1.95"/>
<circle cx="450.0" cy="55.8" r="1.95"/>
<circle cx="451.9" cy="55.8" r="1.95"/>
<circle cx="453.7" cy="55.8" r="1.95"/>
<circle cx="455.6" cy="55.8" r="1.95"/>
<circle cx="457.4" cy="55.8" r="1.95"/>
<circle cx="459.3" cy="55.8" r="1.95"/>
<circle cx="461.1" cy="55.8" r="1.95"/>
<circle cx="463.0" cy="55.8" r="1.95"/>
<circle cx="464.8" cy="55.8" r="1.95"/>
<circle cx="466.7" cy="55.8" r="1.95"/>
<circle cx="468.5" cy="55.8" r="1.95"/>
<circle cx="470.4" cy="55.8" r="1.95"/>
<circle cx="472.3" cy="55.8" r="1.95"/>
<circle cx="474.1" cy="55.8" r="1.95"/>
<circle cx="476.0" cy="55.8" r="1.95"/>
<circle cx="477.8" cy="55.8" r="1.95"/>
<circle cx="479.7" cy="55.8" r="1.95"/>
<circle cx="481.7" cy="55.8" r="1.95"/>
<circle cx="440.7" cy="57.3" r="1.95"/>
<circle cx="442.6" cy="57.3" r="1.95"/>
<circle cx="444.4" cy="57.3" r="1.95"/>
<circle cx="446.3" cy="57.3" r="1.95"/>
<circle cx="448.1" cy="57.3" r="1.95"/>
<circle cx="450.0" cy="57.3" r="1.95"/>
<circle cx="451.9" cy="57.3" r="1.95"/>
<circle cx="453.7" cy="57.3" r="1.95"/>
<circle cx="455.6" cy="57.3" r="1.95"/>
<circle cx="457.4" cy="57.3" r="1.95"/>
<circle cx="459.3" cy="57.3" r="1.95"/>
<circle cx="461.1" cy="57.3" r="1.95"/>
<circle cx="463.0" cy="57.3" r="1.95"/>
<circle cx="464.8" cy="57.3" r="1.95"/>
<circle cx="466.7" cy="57.3" r="1.95"/>
<circle cx="468.5" cy="57.3" r="1.95"/>
<circle cx="470.4" cy="57.3" r="1.95"/>
<circle cx="472.3" cy="57.3" r="1.95"/>
<circle cx="474.1" cy="57.3" r="1.95"/>
<circle cx="476.0" cy="57.3" r="1.95"/>
<circle cx="477.8" cy="57.3" r="1.95"/>
<circle cx="479.7" cy="57.3" r="1.95"/>
<circle cx="439.1" cy="57.3" r="1.95"/>
<circle cx="440.7" cy="57.6" r="1.95"/>
<circle cx="442.6" cy="57.6" r="1.95"/>
<circle cx="444.4" cy="57.6" r="1.95"/>
<circle cx="446.3" cy="57.6" r="1.95"/>
<circle cx="448.1" cy="57.6" r="1.95"/>
<circle cx="450.0" cy="57.6" r="1.95"/>
<circle cx="451.9" cy="57.6" r="1.95"/>
<circle cx="453.7" cy="57.6" r="1.95"/>
<circle cx="455.6" cy="57.6" r="1.95"/>
<circle cx="457.4" cy="57.6" r="1.95"/>
<circle cx="459.3" cy="57.6" r="1.95"/>
<circle cx="461.1" cy="57.6" r="1.95"/>
<circle cx="463.0" cy="57.6" r="1.95"/>
<circle cx="464.8" cy="57.6" r="1.95"/>
<circle cx="466.7" cy="57.6" r="1.95"/>
<circle cx="468.5" cy="57.6" r="1.95"/>
<circle cx="470.4" cy="57.6" r="1.95"/>
<circle cx="472.3" cy="57.6" r="1.95"/>
<circle cx="474.1" cy="57.6" r="1.95"/>
<circle cx="476.0" cy="57.6" r="1.95"/>
<circle cx="477.8" cy="57.6" r="1.95"/>
<circle cx="479.7" cy="57.6" r="1.95"/>
<circle cx="439.0" cy="58.5" r="1.95"/>
<circle cx="441.6" cy="58.1" r="1.95"/>
<circle cx="445.0" cy="58.5" r="1.95"/>
<circle cx="448.4" cy="58.2" r="1.95"/>
<circle cx="450.9" cy="58.2" r="1.95"/>
<circle cx="454.1" cy="58.5" r="1.95"/>
<circle cx="456.9" cy="58.4" r="1.95"/>
<circle cx="460.4" cy="58.4" r="1.95"/>
<circle cx="463.5" cy="58.3" r="1.95"/>
<circle cx="466.1" cy="58.1" r="1.95"/>
<circle cx="469.2" cy="58.4" r="1.95"/>
<circle cx="472.0" cy="58.1" r="1.95"/>
<circle cx="475.6" cy="58.1" r="1.95"/>
<circle cx="478.1" cy="58.0" r="1.95"/>
<circle cx="481.5" cy="58.1" r="1.95"/>
<circle cx="441.6" cy="60.4" r="1.95"/>
<circle cx="443.9" cy="60.6" r="1.95"/>
<circle cx="448.4" cy="60.3" r="1.95"/>
<circle cx="452.6" cy="60.8" r="1.95"/>
<circle cx="456.8" cy="60.8" r="1.95"/>
<circle cx="460.7" cy="60.4" r="1.95"/>
<circle cx="463.7" cy="60.8" r="1.95"/>
<circle cx="467.4" cy="60.3" r="1.95"/>
<circle cx="472.4" cy="60.7" r="1.95"/>
<circle cx="475.4" cy="61.1" r="1.95"/>
<circle cx="479.0" cy="60.9" r="1.95"/>
<circle cx="482.4" cy="60.2" r="1.95"/>
<circle cx="450.1" cy="62.3" r="1.95"/>
<circle cx="455.2" cy="62.8" r="1.95"/>
<circle cx="462.7" cy="62.6" r="1.95"/>
<circle cx="466.4" cy="63.1" r="1.95"/>
<circle cx="470.0" cy="62.8" r="1.95"/>
<circle cx="473.4" cy="62.3" r="1.95"/>
<circle cx="477.1" cy="62.8" r="1.95"/>
<circle cx="480.9" cy="62.2" r="1.95"/>
<circle cx="438.6" cy="65.6" r="1.95"/>
<circle cx="442.2" cy="65.2" r="1.95"/>
<circle cx="446.1" cy="65.8" r="1.95"/>
<circle cx="450.6" cy="64.9" r="1.95"/>
<circle cx="457.5" cy="65.3" r="1.95"/>
<circle cx="462.2" cy="65.6" r="1.95"/>
<circle cx="465.3" cy="65.0" r="1.95"/>
<circle cx="470.2" cy="65.3" r="1.95"/>
<circle cx="477.2" cy="65.2" r="1.95"/>
<circle cx="482.3" cy="65.2" r="1.95"/>
<circle cx="472.0" cy="69.4" r="1.95"/>
<circle cx="460.0" cy="75.8" r="1.95"/>
<circle cx="468.0" cy="78.0" r="1.95"/>
<circle cx="509.3" cy="46.7" r="1.95"/>
<circle cx="512.3" cy="47.0" r="1.95"/>
<circle cx="515.8" cy="46.7" r="1.95"/>
<circle cx="518.2" cy="46.9" r="1.95"/>
<circle cx="521.2" cy="46.5" r="1.95"/>
<circle cx="524.8" cy="46.7" r="1.95"/>
<circle cx="527.8" cy="46.7" r="1.95"/>
<circle cx="530.9" cy="46.7" r="1.95"/>
<circle cx="533.3" cy="46.5" r="1.95"/>
<circle cx="536.7" cy="46.8" r="1.95"/>
<circle cx="540.0" cy="46.5" r="1.95"/>
<circle cx="542.8" cy="46.7" r="1.95"/>
<circle cx="545.8" cy="46.5" r="1.95"/>
<circle cx="548.6" cy="46.8" r="1.95"/>
<circle cx="552.2" cy="46.5" r="1.95"/>
<circle cx="511.1" cy="47.4" r="1.95"/>
<circle cx="512.9" cy="47.4" r="1.95"/>
<circle cx="514.8" cy="47.4" r="1.95"/>
<circle cx="516.6" cy="47.4" r="1.95"/>
<circle cx="518.5" cy="47.4" r="1.95"/>
<circle cx="520.4" cy="47.4" r="1.95"/>
<circle cx="522.2" cy="47.4" r="1.95"/>
<circle cx="524.1" cy="47.4" r="1.95"/>
<circle cx="525.9" cy="47.4" r="1.95"/>
<circle cx="527.8" cy="47.4" r="1.95"/>
<circle cx="529.6" cy="47.4" r="1.95"/>
<circle cx="531.5" cy="47.4" r="1.95"/>
<circle cx="533.3" cy="47.4" r="1.95"/>
<circle cx="535.2" cy="47.4" r="1.95"/>
<circle cx="537.1" cy="47.4" r="1.95"/>
<circle cx="538.9" cy="47.4" r="1.95"/>
<circle cx="540.8" cy="47.4" r="1.95"/>
<circle cx="542.6" cy="47.4" r="1.95"/>
<circle cx="544.5" cy="47.4" r="1.95"/>
<circle cx="546.3" cy="47.4" r="1.95"/>
<circle cx="548.2" cy="47.4" r="1.95"/>
<circle cx="550.0" cy="47.4" r="1.95"/>
<circle cx="511.1" cy="48.9" r="1.95"/>
<circle cx="512.9" cy="48.9" r="1.95"/>
<circle cx="514.8" cy="48.9" r="1.95"/>
<circle cx="516.6" cy="48.9" r="1.95"/>
<circle cx="518.5" cy="48.9" r="1.95"/>
<circle cx="520.4" cy="48.9" r="1.95"/>
<circle cx="522.2" cy="48.9" r="1.95"/>
<circle cx="524.1" cy="48.9" r="1.95"/>
<circle cx="525.9" cy="48.9" r="1.95"/>
<circle cx="527.8" cy="48.9" r="1.95"/>
<circle cx="529.6" cy="48.9" r="1.95"/>
<circle cx="531.5" cy="48.9" r="1.95"/>
<circle cx="533.3" cy="48.9" r="1.95"/>
<circle cx="535.2" cy="48.9" r="1.95"/>
<circle cx="537.1" cy="48.9" r="1.95"/>
<circle cx="538.9" cy="48.9" r="1.95"/>
<circle cx="540.8" cy="48.9" r="1.95"/>
<circle cx="542.6" cy="48.9" r="1.95"/>
<circle cx="544.5" cy="48.9" r="1.95"/>
<circle cx="546.3" cy="48.9" r="1.95"/>
<circle cx="548.2" cy="48.9" r="1.95"/>
<circle cx="550.0" cy="48.9" r="1.95"/>
<circle cx="509.1" cy="48.9" r="1.95"/>
<circle cx="511.1" cy="50.4" r="1.95"/>
<circle cx="512.9" cy="50.4" r="1.95"/>
<circle cx="514.8" cy="50.4" r="1.95"/>
<circle cx="516.6" cy="50.4" r="1.95"/>
<circle cx="518.5" cy="50.4" r="1.95"/>
<circle cx="520.4" cy="50.4" r="1.95"/>
<circle cx="522.2" cy="50.4" r="1.95"/>
<circle cx="524.1" cy="50.4" r="1.95"/>
<circle cx="525.9" cy="50.4" r="1.95"/>
<circle cx="527.8" cy="50.4" r="1.95"/>
<circle cx="529.6" cy="50.4" r="1.95"/>
<circle cx="531.5" cy="50.4" r="1.95"/>
<circle cx="533.3" cy="50.4" r="1.95"/>
<circle cx="535.2" cy="50.4" r="1.95"/>
<circle cx="537.1" cy="50.4" r="1.95"/>
<circle cx="538.9" cy="50.4" r="1.95"/>
<circle cx="540.8" cy="50.4" r="1.95"/>
<circle cx="542.6" cy="50.4" r="1.95"/>
<circle cx="544.5" cy="50.4" r="1.95"/>
<circle cx="546.3" cy="50.4" r="1.95"/>
<circle cx="548.2" cy="50.4" r="1.95"/>
<circle cx="550.0" cy="50.4" r="1.95"/>
<circle cx="552.1" cy="50.4" r="1.95"/>
<circle cx="511.1" cy="51.9" r="1.95"/>
<circle cx="512.9" cy="51.9" r="1.95"/>
<circle cx="514.8" cy="51.9" r="1.95"/>
<circle cx="516.6" cy="51.9" r="1.95"/>
<circle cx="518.5" cy="51.9" r="1.95"/>
<circle cx="520.4" cy="51.9" r="1.95"/>
<circle cx="522.2" cy="51.9" r="1.95"/>
<circle cx="524.1" cy="51.9" r="1.95"/>
<circle cx="525.9" cy="51.9" r="1.95"/>
<circle cx="527.8" cy="51.9" r="1.95"/>
<circle cx="529.6" cy="51.9" r="1.95"/>
<circle cx="531.5" cy="51.9" r="1.95"/>
<circle cx="533.3" cy="51.9" r="1.95"/>
<circle cx="535.2" cy="51.9" r="1.95"/>
<circle cx="537.1" cy="51.9" r="1.95"/>
<circle cx="538.9" cy="51.9" r="1.95"/>
<circle cx="540.8" cy="51.9" r="1.95"/>
<circle cx="542.6" cy="51.9" r="1.95"/>
<circle cx="544.5" cy="51.9" r="1.95"/>
<circle cx="546.3" cy="51.9" r="1.95"/>
<circle cx="548.2" cy="51.9" r="1.95"/>
<circle cx="550.0" cy="51.9" r="1.95"/>
<circle cx="511.1" cy="53.4" r="1.95"/>
<circle cx="512.9" cy="53.4" r="1.95"/>
<circle cx="514.8" cy="53.4" r="1.95"/>
<circle cx="516.6" cy="53.4" r="1.95"/>
<circle cx="518.5" cy="53.4" r="1.95"/>
<circle cx="520.4" cy="53.4" r="1.95"/>
<circle cx="522.2" cy="53.4" r="1.95"/>
<circle cx="524.1" cy="53.4" r="1.95"/>
<circle cx="525.9" cy="53.4" r="1.95"/>
<circle cx="527.8" cy="53.4" r="1.95"/>
<circle cx="529.6" cy="53.4" r="1.95"/>
<circle cx="531.5" cy="53.4" r="1.95"/>
<circle cx="533.3" cy="53.4" r="1.95"/>
<circle cx="535.2" cy="53.4" r="1.95"/>
<circle cx="537.1" cy="53.4" r="1.95"/>
<circle cx="538.9" cy="53.4" r="1.95"/>
<circle cx="540.8" cy="53.4" r="1.95"/>
<circle cx="542.6" cy="53.4" r="1.95"/>
<circle cx="544.5" cy="53.4" r="1.95"/>
<circle cx="546.3" cy="53.4" r="1.95"/>
<circle cx="548.2" cy="53.4" r="1.95"/>
<circle cx="550.0" cy="53.4" r="1.95"/>
<circle cx="509.0" cy="53.4" r="1.95"/>
<circle cx="511.1" cy="53.4" r="1.95"/>
<circle cx="512.9" cy="53.4" r="1.95"/>
<circle cx="514.8" cy="53.4" r="1.95"/>
<circle cx="516.6" cy="53.4" r="1.95"/>
<circle cx="518.5" cy="53.4" r="1.95"/>
<circle cx="520.4" cy="53.4" r="1.95"/>
<circle cx="522.2" cy="53.4" r="1.95"/>
<circle cx="524.1" cy="53.4" r="1.95"/>
<circle cx="525.9" cy="53.4" r="1.95"/>
<circle cx="527.8" cy="53.4" r="1.95"/>
<circle cx="529.6" cy="53.4" r="1.95"/>
<circle cx="531.5" cy="53.4" r="1.95"/>
<circle cx="533.3" cy="53.4" r="1.95"/>
<circle cx="535.2" cy="53.4" r="1.95"/>
<circle cx="537.1" cy="53.4" r="1.95"/>
<circle cx="538.9" cy="53.4" r="1.95"/>
<circle cx="540.8" cy="53.4" r="1.95"/>
<circle cx="542.6" cy="53.4" r="1.95"/>
<circle cx="544.5" cy="53.4" r="1.95"/>
<circle cx="546.3" cy="53.4" r="1.95"/>
<circle cx="548.2" cy="53.4" r="1.95"/>
<circle cx="550.0" cy="53.4" r="1.95"/>
<circle cx="509.6" cy="53.9" r="1.95"/>
<circle cx="512.4" cy="54.1" r="1.95"/>
<circle cx="515.0" cy="54.2" r="1.95"/>
<circle cx="518.6" cy="54.3" r="1.95"/>
<circle cx="521.6" cy="54.3" r="1.95"/>
<circle cx="524.6" cy="54.1" r="1.95"/>
<circle cx="527.3" cy="54.0" r="1.95"/>
<circle cx="530.6" cy="53.8" r="1.95"/>
<circle cx="534.0" cy="53.8" r="1.95"/>
<circle cx="536.5" cy="53.8" r="1.95"/>
<circle cx="540.1" cy="54.2" r="1.95"/>
<circle cx="542.5" cy="54.3" r="1.95"/>
<circle cx="546.0" cy="54.2" r="1.95"/>
<circle cx="548.9" cy="53.9" r="1.95"/>
<circle cx="551.8" cy="54.0" r="1.95"/>
<circle cx="510.9" cy="56.6" r="1.95"/>
<circle cx="514.3" cy="56.7" r="1.95"/>
<circle cx="517.8" cy="56.3" r="1.95"/>
<circle cx="526.0" cy="56.9" r="1.95"/>
<circle cx="530.6" cy="57.1" r="1.95"/>
<circle cx="533.0" cy="56.7" r="1.95"/>
<circle cx="538.2" cy="56.8" r="1.95"/>
<circle cx="540.7" cy="56.4" r="1.95"/>
<circle cx="549.7" cy="56.4" r="1.95"/>
<circle cx="552.6" cy="57.0" r="1.95"/>
<circle cx="509.6" cy="59.0" r="1.95"/>
<circle cx="513.5" cy="58.5" r="1.95"/>
<circle cx="522.5" cy="59.2" r="1.95"/>
<circle cx="526.2" cy="58.6" r="1.95"/>
<circle cx="533.1" cy="58.7" r="1.95"/>
<circle cx="538.2" cy="58.9" r="1.95"/>
<circle cx="542.2" cy="58.9" r="1.95"/>
<circle cx="545.4" cy="58.6" r="1.95"/>
<circle cx="548.5" cy="58.8" r="1.95"/>
<circle cx="551.5" cy="58.7" r="1.95"/>
<circle cx="513.2" cy="60.3" r="1.95"/>
<circle cx="539.8" cy="61.2" r="1.95"/>
<circle cx="547.3" cy="60.7" r="1.95"/>
<circle cx="551.1" cy="60.4" r="1.95"/>
<circle cx="530.7" cy="40.6" r="1.95"/>
<circle cx="536.5" cy="43.8" r="1.95"/>
<circle cx="511.0" cy="61.3" r="1.95"/>
<circle cx="526.8" cy="62.7" r="1.95"/>
<circle cx="534.5" cy="63.0" r="1.95"/>
<circle cx="542.6" cy="62.7" r="1.95"/>
<circle cx="550.3" cy="61.7" r="1.95"/>
<circle cx="526.8" cy="66.5" r="1.95"/>
<circle cx="530.7" cy="75.6" r="1.95"/>
<circle cx="579.4" cy="45.4" r="1.95"/>
<circle cx="583.0" cy="45.2" r="1.95"/>
<circle cx="585.7" cy="45.2" r="1.95"/>
<circle cx="589.1" cy="45.6" r="1.95"/>
<circle cx="592.1" cy="45.6" r="1.95"/>
<circle cx="595.0" cy="45.5" r="1.95"/>
<circle cx="597.7" cy="45.2" r="1.95"/>
<circle cx="601.0" cy="45.3" r="1.95"/>
<circle cx="603.9" cy="45.1" r="1.95"/>
<circle cx="607.0" cy="45.4" r="1.95"/>
<circle cx="609.7" cy="45.1" r="1.95"/>
<circle cx="613.1" cy="45.2" r="1.95"/>
<circle cx="616.1" cy="45.4" r="1.95"/>
<circle cx="619.1" cy="45.2" r="1.95"/>
<circle cx="621.9" cy="45.3" r="1.95"/>
<circle cx="581.4" cy="46.0" r="1.95"/>
<circle cx="583.3" cy="46.0" r="1.95"/>
<circle cx="585.2" cy="46.0" r="1.95"/>
<circle cx="587.0" cy="46.0" r="1.95"/>
<circle cx="588.9" cy="46.0" r="1.95"/>
<circle cx="590.7" cy="46.0" r="1.95"/>
<circle cx="592.6" cy="46.0" r="1.95"/>
<circle cx="594.4" cy="46.0" r="1.95"/>
<circle cx="596.3" cy="46.0" r="1.95"/>
<circle cx="598.1" cy="46.0" r="1.95"/>
<circle cx="600.0" cy="46.0" r="1.95"/>
<circle cx="601.8" cy="46.0" r="1.95"/>
<circle cx="603.7" cy="46.0" r="1.95"/>
<circle cx="605.6" cy="46.0" r="1.95"/>
<circle cx="607.4" cy="46.0" r="1.95"/>
<circle cx="609.3" cy="46.0" r="1.95"/>
<circle cx="611.1" cy="46.0" r="1.95"/>
<circle cx="613.0" cy="46.0" r="1.95"/>
<circle cx="614.8" cy="46.0" r="1.95"/>
<circle cx="616.7" cy="46.0" r="1.95"/>
<circle cx="618.5" cy="46.0" r="1.95"/>
<circle cx="620.4" cy="46.0" r="1.95"/>
<circle cx="581.4" cy="47.5" r="1.95"/>
<circle cx="583.3" cy="47.5" r="1.95"/>
<circle cx="585.2" cy="47.5" r="1.95"/>
<circle cx="587.0" cy="47.5" r="1.95"/>
<circle cx="588.9" cy="47.5" r="1.95"/>
<circle cx="590.7" cy="47.5" r="1.95"/>
<circle cx="592.6" cy="47.5" r="1.95"/>
<circle cx="594.4" cy="47.5" r="1.95"/>
<circle cx="596.3" cy="47.5" r="1.95"/>
<circle cx="598.1" cy="47.5" r="1.95"/>
<circle cx="600.0" cy="47.5" r="1.95"/>
<circle cx="601.8" cy="47.5" r="1.95"/>
<circle cx="603.7" cy="47.5" r="1.95"/>
<circle cx="605.6" cy="47.5" r="1.95"/>
<circle cx="607.4" cy="47.5" r="1.95"/>
<circle cx="609.3" cy="47.5" r="1.95"/>
<circle cx="611.1" cy="47.5" r="1.95"/>
<circle cx="613.0" cy="47.5" r="1.95"/>
<circle cx="614.8" cy="47.5" r="1.95"/>
<circle cx="616.7" cy="47.5" r="1.95"/>
<circle cx="618.5" cy="47.5" r="1.95"/>
<circle cx="620.4" cy="47.5" r="1.95"/>
<circle cx="579.4" cy="47.5" r="1.95"/>
<circle cx="581.4" cy="49.0" r="1.95"/>
<circle cx="583.3" cy="49.0" r="1.95"/>
<circle cx="585.2" cy="49.0" r="1.95"/>
<circle cx="587.0" cy="49.0" r="1.95"/>
<circle cx="588.9" cy="49.0" r="1.95"/>
<circle cx="590.7" cy="49.0" r="1.95"/>
<circle cx="592.6" cy="49.0" r="1.95"/>
<circle cx="594.4" cy="49.0" r="1.95"/>
<circle cx="596.3" cy="49.0" r="1.95"/>
<circle cx="598.1" cy="49.0" r="1.95"/>
<circle cx="600.0" cy="49.0" r="1.95"/>
<circle cx="601.8" cy="49.0" r="1.95"/>
<circle cx="603.7" cy="49.0" r="1.95"/>
<circle cx="605.6" cy="49.0" r="1.95"/>
<circle cx="607.4" cy="49.0" r="1.95"/>
<circle cx="609.3" cy="49.0" r="1.95"/>
<circle cx="611.1" cy="49.0" r="1.95"/>
<circle cx="613.0" cy="49.0" r="1.95"/>
<circle cx="614.8" cy="49.0" r="1.95"/>
<circle cx="616.7" cy="49.0" r="1.95"/>
<circle cx="618.5" cy="49.0" r="1.95"/>
<circle cx="620.4" cy="49.0" r="1.95"/>
<circle cx="622.5" cy="49.0" r="1.95"/>
<circle cx="581.4" cy="50.5" r="1.95"/>
<circle cx="583.3" cy="50.5" r="1.95"/>
<circle cx="585.2" cy="50.5" r="1.95"/>
<circle cx="587.0" cy="50.5" r="1.95"/>
<circle cx="588.9" cy="50.5" r="1.95"/>
<circle cx="590.7" cy="50.5" r="1.95"/>
<circle cx="592.6" cy="50.5" r="1.95"/>
<circle cx="594.4" cy="50.5" r="1.95"/>
<circle cx="596.3" cy="50.5" r="1.95"/>
<circle cx="598.1" cy="50.5" r="1.95"/>
<circle cx="600.0" cy="50.5" r="1.95"/>
<circle cx="601.8" cy="50.5" r="1.95"/>
<circle cx="603.7" cy="50.5" r="1.95"/>
<circle cx="605.6" cy="50.5" r="1.95"/>
<circle cx="607.4" cy="50.5" r="1.95"/>
<circle cx="609.3" cy="50.5" r="1.95"/>
<circle cx="611.1" cy="50.5" r="1.95"/>
<circle cx="613.0" cy="50.5" r="1.95"/>
<circle cx="614.8" cy="50.5" r="1.95"/>
<circle cx="616.7" cy="50.5" r="1.95"/>
<circle cx="618.5" cy="50.5" r="1.95"/>
<circle cx="620.4" cy="50.5" r="1.95"/>
<circle cx="581.4" cy="52.0" r="1.95"/>
<circle cx="583.3" cy="52.0" r="1.95"/>
<circle cx="585.2" cy="52.0" r="1.95"/>
<circle cx="587.0" cy="52.0" r="1.95"/>
<circle cx="588.9" cy="52.0" r="1.95"/>
<circle cx="590.7" cy="52.0" r="1.95"/>
<circle cx="592.6" cy="52.0" r="1.95"/>
<circle cx="594.4" cy="52.0" r="1.95"/>
<circle cx="596.3" cy="52.0" r="1.95"/>
<circle cx="598.1" cy="52.0" r="1.95"/>
<circle cx="600.0" cy="52.0" r="1.95"/>
<circle cx="601.8" cy="52.0" r="1.95"/>
<circle cx="603.7" cy="52.0" r="1.95"/>
<circle cx="605.6" cy="52.0" r="1.95"/>
<circle cx="607.4" cy="52.0" r="1.95"/>
<circle cx="609.3" cy="52.0" r="1.95"/>
<circle cx="611.1" cy="52.0" r="1.95"/>
<circle cx="613.0" cy="52.0" r="1.95"/>
<circle cx="614.8" cy="52.0" r="1.95"/>
<circle cx="616.7" cy="52.0" r="1.95"/>
<circle cx="618.5" cy="52.0" r="1.95"/>
<circle cx="620.4" cy="52.0" r="1.95"/>
<circle cx="579.4" cy="52.0" r="1.95"/>
<circle cx="581.4" cy="53.5" r="1.95"/>
<circle cx="583.3" cy="53.5" r="1.95"/>
<circle cx="585.2" cy="53.5" r="1.95"/>
<circle cx="587.0" cy="53.5" r="1.95"/>
<circle cx="588.9" cy="53.5" r="1.95"/>
<circle cx="590.7" cy="53.5" r="1.95"/>
<circle cx="592.6" cy="53.5" r="1.95"/>
<circle cx="594.4" cy="53.5" r="1.95"/>
<circle cx="596.3" cy="53.5" r="1.95"/>
<circle cx="598.1" cy="53.5" r="1.95"/>
<circle cx="600.0" cy="53.5" r="1.95"/>
<circle cx="601.8" cy="53.5" r="1.95"/>
<circle cx="603.7" cy="53.5" r="1.95"/>
<circle cx="605.6" cy="53.5" r="1.95"/>
<circle cx="607.4" cy="53.5" r="1.95"/>
<circle cx="609.3" cy="53.5" r="1.95"/>
<circle cx="611.1" cy="53.5" r="1.95"/>
<circle cx="613.0" cy="53.5" r="1.95"/>
<circle cx="614.8" cy="53.5" r="1.95"/>
<circle cx="616.7" cy="53.5" r="1.95"/>
<circle cx="618.5" cy="53.5" r="1.95"/>
<circle cx="620.4" cy="53.5" r="1.95"/>
<circle cx="622.0" cy="53.5" r="1.95"/>
<circle cx="581.4" cy="55.0" r="1.95"/>
<circle cx="583.3" cy="55.0" r="1.95"/>
<circle cx="585.2" cy="55.0" r="1.95"/>
<circle cx="587.0" cy="55.0" r="1.95"/>
<circle cx="588.9" cy="55.0" r="1.95"/>
<circle cx="590.7" cy="55.0" r="1.95"/>
<circle cx="592.6" cy="55.0" r="1.95"/>
<circle cx="594.4" cy="55.0" r="1.95"/>
<circle cx="596.3" cy="55.0" r="1.95"/>
<circle cx="598.1" cy="55.0" r="1.95"/>
<circle cx="600.0" cy="55.0" r="1.95"/>
<circle cx="601.8" cy="55.0" r="1.95"/>
<circle cx="603.7" cy="55.0" r="1.95"/>
<circle cx="605.6" cy="55.0" r="1.95"/>
<circle cx="607.4" cy="55.0" r="1.95"/>
<circle cx="609.3" cy="55.0" r="1.95"/>
<circle cx="611.1" cy="55.0" r="1.95"/>
<circle cx="613.0" cy="55.0" r="1.95"/>
<circle cx="614.8" cy="55.0" r="1.95"/>
<circle cx="616.7" cy="55.0" r="1.95"/>
<circle cx="618.5" cy="55.0" r="1.95"/>
<circle cx="620.4" cy="55.0" r="1.95"/>
<circle cx="581.4" cy="56.5" r="1.95"/>
<circle cx="583.3" cy="56.5" r="1.95"/>
<circle cx="585.2" cy="56.5" r="1.95"/>
<circle cx="587.0" cy="56.5" r="1.95"/>
<circle cx="588.9" cy="56.5" r="1.95"/>
<circle cx="590.7" cy="56.5" r="1.95"/>
<circle cx="592.6" cy="56.5" r="1.95"/>
<circle cx="594.4" cy="56.5" r="1.95"/>
<circle cx="596.3" cy="56.5" r="1.95"/>
<circle cx="598.1" cy="56.5" r="1.95"/>
<circle cx="600.0" cy="56.5" r="1.95"/>
<circle cx="601.8" cy="56.5" r="1.95"/>
<circle cx="603.7" cy="56.5" r="1.95"/>
<circle cx="605.6" cy="56.5" r="1.95"/>
<circle cx="607.4" cy="56.5" r="1.95"/>
<circle cx="609.3" cy="56.5" r="1.95"/>
<circle cx="611.1" cy="56.5" r="1.95"/>
<circle cx="613.0" cy="56.5" r="1.95"/>
<circle cx="614.8" cy="56.5" r="1.95"/>
<circle cx="616.7" cy="56.5" r="1.95"/>
<circle cx="618.5" cy="56.5" r="1.95"/>
<circle cx="620.4" cy="56.5" r="1.95"/>
<circle cx="579.3" cy="56.5" r="1.95"/>
<circle cx="581.4" cy="58.0" r="1.95"/>
<circle cx="583.3" cy="58.0" r="1.95"/>
<circle cx="585.2" cy="58.0" r="1.95"/>
<circle cx="587.0" cy="58.0" r="1.95"/>
<circle cx="588.9" cy="58.0" r="1.95"/>
<circle cx="590.7" cy="58.0" r="1.95"/>
<circle cx="592.6" cy="58.0" r="1.95"/>
<circle cx="594.4" cy="58.0" r="1.95"/>
<circle cx="596.3" cy="58.0" r="1.95"/>
<circle cx="598.1" cy="58.0" r="1.95"/>
<circle cx="600.0" cy="58.0" r="1.95"/>
<circle cx="601.8" cy="58.0" r="1.95"/>
<circle cx="603.7" cy="58.0" r="1.95"/>
<circle cx="605.6" cy="58.0" r="1.95"/>
<circle cx="607.4" cy="58.0" r="1.95"/>
<circle cx="609.3" cy="58.0" r="1.95"/>
<circle cx="611.1" cy="58.0" r="1.95"/>
<circle cx="613.0" cy="58.0" r="1.95"/>
<circle cx="614.8" cy="58.0" r="1.95"/>
<circle cx="616.7" cy="58.0" r="1.95"/>
<circle cx="618.5" cy="58.0" r="1.95"/>
<circle cx="620.4" cy="58.0" r="1.95"/>
<circle cx="622.3" cy="58.0" r="1.95"/>
<circle cx="581.4" cy="59.5" r="1.95"/>
<circle cx="583.3" cy="59.5" r="1.95"/>
<circle cx="585.2" cy="59.5" r="1.95"/>
<circle cx="587.0" cy="59.5" r="1.95"/>
<circle cx="588.9" cy="59.5" r="1.95"/>
<circle cx="590.7" cy="59.5" r="1.95"/>
<circle cx="592.6" cy="59.5" r="1.95"/>
<circle cx="594.4" cy="59.5" r="1.95"/>
<circle cx="596.3" cy="59.5" r="1.95"/>
<circle cx="598.1" cy="59.5" r="1.95"/>
<circle cx="600.0" cy="59.5" r="1.95"/>
<circle cx="601.8" cy="59.5" r="1.95"/>
<circle cx="603.7" cy="59.5" r="1.95"/>
<circle cx="605.6" cy="59.5" r="1.95"/>
<circle cx="607.4" cy="59.5" r="1.95"/>
<circle cx="609.3" cy="59.5" r="1.95"/>
<circle cx="611.1" cy="59.5" r="1.95"/>
<circle cx="613.0" cy="59.5" r="1.95"/>
<circle cx="614.8" cy="59.5" r="1.95"/>
<circle cx="616.7" cy="59.5" r="1.95"/>
<circle cx="618.5" cy="59.5" r="1.95"/>
<circle cx="620.4" cy="59.5" r="1.95"/>
<circle cx="581.4" cy="60.0" r="1.95"/>
<circle cx="583.3" cy="60.0" r="1.95"/>
<circle cx="585.2" cy="60.0" r="1.95"/>
<circle cx="587.0" cy="60.0" r="1.95"/>
<circle cx="588.9" cy="60.0" r="1.95"/>
<circle cx="590.7" cy="60.0" r="1.95"/>
<circle cx="592.6" cy="60.0" r="1.95"/>
<circle cx="594.4" cy="60.0" r="1.95"/>
<circle cx="596.3" cy="60.0" r="1.95"/>
<circle cx="598.1" cy="60.0" r="1.95"/>
<circle cx="600.0" cy="60.0" r="1.95"/>
<circle cx="601.8" cy="60.0" r="1.95"/>
<circle cx="603.7" cy="60.0" r="1.95"/>
<circle cx="605.6" cy="60.0" r="1.95"/>
<circle cx="607.4" cy="60.0" r="1.95"/>
<circle cx="609.3" cy="60.0" r="1.95"/>
<circle cx="611.1" cy="60.0" r="1.95"/>
<circle cx="613.0" cy="60.0" r="1.95"/>
<circle cx="614.8" cy="60.0" r="1.95"/>
<circle cx="616.7" cy="60.0" r="1.95"/>
<circle cx="618.5" cy="60.0" r="1.95"/>
<circle cx="620.4" cy="60.0" r="1.95"/>
<circle cx="579.9" cy="60.8" r="1.95"/>
<circle cx="582.6" cy="60.5" r="1.95"/>
<circle cx="585.3" cy="60.7" r="1.95"/>
<circle cx="588.8" cy="60.6" r="1.95"/>
<circle cx="591.9" cy="60.6" r="1.95"/>
<circle cx="595.2" cy="60.8" r="1.95"/>
<circle cx="597.7" cy="60.9" r="1.95"/>
<circle cx="600.6" cy="60.7" r="1.95"/>
<circle cx="603.9" cy="60.5" r="1.95"/>
<circle cx="606.6" cy="60.8" r="1.95"/>
<circle cx="609.6" cy="60.7" r="1.95"/>
<circle cx="613.4" cy="60.4" r="1.95"/>
<circle cx="615.9" cy="60.7" r="1.95"/>
<circle cx="619.2" cy="60.7" r="1.95"/>
<circle cx="622.5" cy="60.5" r="1.95"/>
<circle cx="578.8" cy="63.2" r="1.95"/>
<circle cx="583.2" cy="62.3" r="1.95"/>
<circle cx="587.1" cy="62.8" r="1.95"/>
<circle cx="590.4" cy="62.5" r="1.95"/>
<circle cx="593.9" cy="62.3" r="1.95"/>
<circle cx="598.7" cy="63.0" r="1.95"/>
<circle cx="602.5" cy="62.6" r="1.95"/>
<circle cx="605.9" cy="63.1" r="1.95"/>
<circle cx="609.4" cy="62.9" r="1.95"/>
<circle cx="618.3" cy="62.3" r="1.95"/>
<circle cx="621.0" cy="63.0" r="1.95"/>
<circle cx="585.9" cy="64.8" r="1.95"/>
<circle cx="589.8" cy="65.1" r="1.95"/>
<circle cx="605.2" cy="65.2" r="1.95"/>
<circle cx="612.7" cy="65.1" r="1.95"/>
<circle cx="615.6" cy="65.1" r="1.95"/>
<circle cx="620.8" cy="64.6" r="1.95"/>
<circle cx="621.5" cy="65.4" r="1.95"/>
<circle cx="604.5" cy="42.5" r="1.95"/>
<circle cx="593.0" cy="67.0" r="1.95"/>
<circle cx="600.7" cy="69.4" r="1.95"/>
<circle cx="608.8" cy="66.5" r="1.95"/>
<circle cx="593.0" cy="72.7" r="1.95"/>
<circle cx="608.8" cy="70.8" r="1.95"/>
<circle cx="600.7" cy="77.7" r="1.95"/>
</g>
<g fill="#fff">
<ellipse cx="120.6" cy="56.5" rx="1.09" ry="0.60"/>
<ellipse cx="90.3" cy="56.7" rx="0.87" ry="0.44"/>
<ellipse cx="91.6" cy="57.2" rx="0.83" ry="0.47"/>
<ellipse cx="104.3" cy="57.3" rx="0.78" ry="0.53"/>
<ellipse cx="110.3" cy="57.3" rx="1.52" ry="0.66"/>
<ellipse cx="100.0" cy="56.7" rx="1.06" ry="0.67"/>
<ellipse cx="125.8" cy="56.3" rx="0.88" ry="0.47"/>
<ellipse cx="98.3" cy="56.8" rx="1.29" ry="0.48"/>
<ellipse cx="89.6" cy="56.7" rx="1.07" ry="0.57"/>
<ellipse cx="125.6" cy="57.1" rx="1.22" ry="0.59"/>
<ellipse cx="115.1" cy="56.2" rx="1.60" ry="0.63"/>
<ellipse cx="122.6" cy="60.9" rx="1.09" ry="0.52"/>
<ellipse cx="93.3" cy="60.7" rx="0.76" ry="0.42"/>
<ellipse cx="97.3" cy="60.0" rx="1.04" ry="0.42"/>
<ellipse cx="89.4" cy="60.0" rx="0.80" ry="0.51"/>
<ellipse cx="90.4" cy="61.0" rx="1.31" ry="0.44"/>
<ellipse cx="99.0" cy="60.3" rx="1.06" ry="0.44"/>
<ellipse cx="121.7" cy="61.2" rx="1.17" ry="0.55"/>
<ellipse cx="92.7" cy="63.7" rx="1.04" ry="0.48"/>
<ellipse cx="120.9" cy="63.8" rx="0.72" ry="0.69"/>
<ellipse cx="109.5" cy="63.8" rx="1.24" ry="0.41"/>
<ellipse cx="109.5" cy="65.0" rx="1.56" ry="0.61"/>
<ellipse cx="99.3" cy="64.1" rx="0.87" ry="0.63"/>
<ellipse cx="109.6" cy="64.7" rx="1.03" ry="0.47"/>
<ellipse cx="120.2" cy="65.0" rx="1.55" ry="0.64"/>
<ellipse cx="120.5" cy="68.3" rx="0.93" ry="0.56"/>
<ellipse cx="102.9" cy="67.3" rx="0.73" ry="0.48"/>
</g>
</g>
<line x1="63.6" y1="88.85" x2="642.9" y2="88.85" stroke="#000" stroke-width="0.9" stroke-dasharray="1 0.9"/>
<g stroke="#000" fill="none">
<line x1="61.65" y1="9.65" x2="61.65" y2="206.30" stroke-width="1.6"/>
<line x1="61.05" y1="205.50" x2="648.2" y2="205.50" stroke-width="1.2"/>
<line x1="52.3" y1="10.15" x2="61.65" y2="10.15" stroke-width="0.85" stroke="#222"/>
<line x1="56.6" y1="37.46" x2="61.65" y2="37.46" stroke-width="1"/>
<line x1="56.6" y1="30.58" x2="61.65" y2="30.58" stroke-width="1"/>
<line x1="56.6" y1="25.70" x2="61.65" y2="25.70" stroke-width="1"/>
<line x1="56.6" y1="21.91" x2="61.65" y2="21.91" stroke-width="1"/>
<line x1="56.6" y1="18.82" x2="61.65" y2="18.82" stroke-width="1"/>
<line x1="56.6" y1="16.20" x2="61.65" y2="16.20" stroke-width="1"/>
<line x1="56.6" y1="13.94" x2="61.65" y2="13.94" stroke-width="1"/>
<line x1="56.6" y1="11.94" x2="61.65" y2="11.94" stroke-width="1"/>
<line x1="52.3" y1="49.22" x2="61.65" y2="49.22" stroke-width="0.85" stroke="#222"/>
<line x1="56.6" y1="76.53" x2="61.65" y2="76.53" stroke-width="1"/>
<line x1="56.6" y1="69.65" x2="61.65" y2="69.65" stroke-width="1"/>
<line x1="56.6" y1="64.77" x2="61.65" y2="64.77" stroke-width="1"/>
<line x1="56.6" y1="60.98" x2="61.65" y2="60.98" stroke-width="1"/>
<line x1="56.6" y1="57.89" x2="61.65" y2="57.89" stroke-width="1"/>
<line x1="56.6" y1="55.27" x2="61.65" y2="55.27" stroke-width="1"/>
<line x1="56.6" y1="53.01" x2="61.65" y2="53.01" stroke-width="1"/>
<line x1="56.6" y1="51.01" x2="61.65" y2="51.01" stroke-width="1"/>
<line x1="52.3" y1="88.29" x2="61.65" y2="88.29" stroke-width="0.85" stroke="#222"/>
<line x1="56.6" y1="115.60" x2="61.65" y2="115.60" stroke-width="1"/>
<line x1="56.6" y1="108.72" x2="61.65" y2="108.72" stroke-width="1"/>
<line x1="56.6" y1="103.84" x2="61.65" y2="103.84" stroke-width="1"/>
<line x1="56.6" y1="100.05" x2="61.65" y2="100.05" stroke-width="1"/>
<line x1="56.6" y1="96.96" x2="61.65" y2="96.96" stroke-width="1"/>
<line x1="56.6" y1="94.34" x2="61.65" y2="94.34" stroke-width="1"/>
<line x1="56.6" y1="92.08" x2="61.65" y2="92.08" stroke-width="1"/>
<line x1="56.6" y1="90.08" x2="61.65" y2="90.08" stroke-width="1"/>
<line x1="52.3" y1="127.36" x2="61.65" y2="127.36" stroke-width="0.85" stroke="#222"/>
<line x1="56.6" y1="154.67" x2="61.65" y2="154.67" stroke-width="1"/>
<line x1="56.6" y1="147.79" x2="61.65" y2="147.79" stroke-width="1"/>
<line x1="56.6" y1="142.91" x2="61.65" y2="142.91" stroke-width="1"/>
<line x1="56.6" y1="139.12" x2="61.65" y2="139.12" stroke-width="1"/>
<line x1="56.6" y1="136.03" x2="61.65" y2="136.03" stroke-width="1"/>
<line x1="56.6" y1="133.41" x2="61.65" y2="133.41" stroke-width="1"/>
<line x1="56.6" y1="131.15" x2="61.65" y2="131.15" stroke-width="1"/>
<line x1="56.6" y1="129.15" x2="61.65" y2="129.15" stroke-width="1"/>
<line x1="52.3" y1="166.43" x2="61.65" y2="166.43" stroke-width="0.85" stroke="#222"/>
<line x1="56.6" y1="193.74" x2="61.65" y2="193.74" stroke-width="1"/>
<line x1="56.6" y1="186.86" x2="61.65" y2="186.86" stroke-width="1"/>
<line x1="56.6" y1="181.98" x2="61.65" y2="181.98" stroke-width="1"/>
<line x1="56.6" y1="178.19" x2="61.65" y2="178.19" stroke-width="1"/>
<line x1="56.6" y1="175.10" x2="61.65" y2="175.10" stroke-width="1"/>
<line x1="56.6" y1="172.48" x2="61.65" y2="172.48" stroke-width="1"/>
<line x1="56.6" y1="170.22" x2="61.65" y2="170.22" stroke-width="1"/>
<line x1="56.6" y1="168.22" x2="61.65" y2="168.22" stroke-width="1"/>
<line x1="52.3" y1="205.50" x2="61.65" y2="205.50" stroke-width="0.85" stroke="#222"/>
<line x1="108.40" y1="205.50" x2="108.40" y2="214.5" stroke-width="1.1"/>
<line x1="178.76" y1="205.50" x2="178.76" y2="214.5" stroke-width="1.1"/>
<line x1="249.12" y1="205.50" x2="249.12" y2="214.5" stroke-width="1.1"/>
<line x1="319.48" y1="205.50" x2="319.48" y2="214.5" stroke-width="1.1"/>
<line x1="389.84" y1="205.50" x2="389.84" y2="214.5" stroke-width="1.1"/>
<line x1="460.20" y1="205.50" x2="460.20" y2="214.5" stroke-width="1.1"/>
<line x1="530.56" y1="205.50" x2="530.56" y2="214.5" stroke-width="1.1"/>
<line x1="600.92" y1="205.50" x2="600.92" y2="214.5" stroke-width="1.1"/>
</g>
<g font-family="Liberation Sans, Arial, sans-serif" font-size="10.55" fill="#000" stroke="#000" stroke-width="0.25">
<text transform="translate(49.80,13.75) scale(1.01,1)" text-anchor="end">1000</text>
<text transform="translate(49.80,52.82) scale(1.01,1)" text-anchor="end">100</text>
<text transform="translate(49.80,91.89) scale(1.01,1)" text-anchor="end">10</text>
<text transform="translate(49.80,130.96) scale(1.01,1)" text-anchor="end">1</text>
<text transform="translate(49.80,170.03) scale(1.01,1)" text-anchor="end">0.1</text>
<text transform="translate(49.80,209.10) scale(1.01,1)" text-anchor="end">0.01</text>
<text transform="translate(108.50,225.70) scale(1.055,1)" text-anchor="middle">H1 2009X</text>
<text transform="translate(178.86,225.70) scale(1.055,1)" text-anchor="middle">H5 2004</text>
<text transform="translate(249.22,225.70) scale(1.055,1)" text-anchor="middle">H3 1968</text>
<text transform="translate(319.58,225.70) scale(1.055,1)" text-anchor="middle">H3 1968H</text>
<text transform="translate(389.94,225.70) scale(1.055,1)" text-anchor="middle">H3 1994H</text>
<text transform="translate(460.30,225.70) scale(1.055,1)" text-anchor="middle">H3 2005</text>
<text transform="translate(530.66,225.70) scale(1.055,1)" text-anchor="middle">H3 2005H</text>
<text transform="translate(601.02,225.70) scale(1.055,1)" text-anchor="middle">H3 2014</text>
<text transform="translate(11.90,115.60) rotate(-90) scale(1.055,1)" text-anchor="middle">Percent HA binding in</text>
<text transform="translate(25.60,115.40) rotate(-90) scale(1.055,1)" text-anchor="middle">presence of S8V1-157</text>
<text x="2.9" y="11.6" font-weight="bold" font-size="12" stroke-width="0.3">A</text>
<text x="3.4" y="231.5" font-weight="bold" font-size="12" stroke-width="0.3">B</text>
</g>
<g stroke="#000" stroke-width="1.15">
<circle cx="109.82" cy="49.90" r="2.9" fill="#ff2000"/>
<circle cx="114.12" cy="46.70" r="2.9" fill="#00f895"/>
<circle cx="116.92" cy="50.50" r="2.9" fill="#ff9000"/>
<circle cx="127.52" cy="49.70" r="2.9" fill="#ffd264"/>
<circle cx="104.62" cy="93.40" r="2.9" fill="#80f000"/>
<circle cx="112.32" cy="91.70" r="2.9" fill="#c4c4c4"/>
<circle cx="100.82" cy="98.20" r="2.9" fill="#fff200"/>
<circle cx="108.52" cy="98.20" r="2.9" fill="#0a9a0a"/>
<circle cx="116.52" cy="98.20" r="2.9" fill="#ff80dc"/>
<circle cx="167.12" cy="49.60" r="2.9" fill="#0a9a0a"/>
<circle cx="164.82" cy="48.10" r="2.9" fill="#ffd264"/>
<circle cx="172.72" cy="48.10" r="2.9" fill="#ff2000"/>
<circle cx="191.42" cy="48.60" r="2.9" fill="#80f000"/>
<circle cx="200.12" cy="48.10" r="2.9" fill="#00f895"/>
<circle cx="196.62" cy="47.70" r="2.9" fill="#ff9000"/>
<circle cx="182.72" cy="70.30" r="2.9" fill="#ff80dc"/>
<circle cx="179.02" cy="112.60" r="2.9" fill="#c4c4c4"/>
<circle cx="179.02" cy="142.90" r="2.9" fill="#fff200"/>
<circle cx="228.72" cy="48.60" r="2.9" fill="#80f000"/>
<circle cx="246.62" cy="49.00" r="2.9" fill="#0a9a0a"/>
<circle cx="249.32" cy="67.80" r="2.9" fill="#ff2000"/>
<circle cx="249.42" cy="98.80" r="2.9" fill="#ff80dc"/>
<circle cx="249.42" cy="117.00" r="2.9" fill="#c4c4c4"/>
<circle cx="249.42" cy="126.10" r="2.9" fill="#00f895"/>
<circle cx="245.42" cy="134.70" r="2.9" fill="#fff200"/>
<circle cx="253.32" cy="131.40" r="2.9" fill="#ffd264"/>
<circle cx="249.42" cy="143.40" r="2.9" fill="#ff9000"/>
<circle cx="305.42" cy="48.20" r="2.9" fill="#0a9a0a"/>
<circle cx="313.72" cy="49.10" r="2.9" fill="#80f000"/>
<circle cx="311.82" cy="88.40" r="2.9" fill="#ff2000"/>
<circle cx="319.82" cy="114.60" r="2.9" fill="#ff80dc"/>
<circle cx="319.82" cy="138.30" r="2.9" fill="#c4c4c4"/>
<circle cx="315.52" cy="149.80" r="2.9" fill="#00f895"/>
<circle cx="323.62" cy="146.90" r="2.9" fill="#ff9000"/>
<circle cx="319.82" cy="170.00" r="2.9" fill="#ffd264"/>
<circle cx="319.82" cy="187.30" r="2.9" fill="#fff200"/>
<circle cx="406.22" cy="47.70" r="2.9" fill="#0a9a0a"/>
<circle cx="374.42" cy="56.20" r="2.9" fill="#80f000"/>
<circle cx="382.02" cy="74.10" r="2.9" fill="#ff80dc"/>
<circle cx="389.82" cy="107.30" r="2.9" fill="#c4c4c4"/>
<circle cx="378.32" cy="129.00" r="2.9" fill="#ff2000"/>
<circle cx="378.32" cy="135.60" r="2.9" fill="#00f895"/>
<circle cx="386.12" cy="131.90" r="2.9" fill="#fff200"/>
<circle cx="393.62" cy="135.60" r="2.9" fill="#ffd264"/>
<circle cx="401.42" cy="133.30" r="2.9" fill="#ff9000"/>
<circle cx="456.02" cy="49.30" r="2.9" fill="#80f000"/>
<circle cx="481.02" cy="48.00" r="2.9" fill="#0a9a0a"/>
<circle cx="452.52" cy="78.10" r="2.9" fill="#ff80dc"/>
<circle cx="464.32" cy="99.50" r="2.9" fill="#00f895"/>
<circle cx="456.62" cy="103.40" r="2.9" fill="#c4c4c4"/>
<circle cx="456.62" cy="113.60" r="2.9" fill="#ff9000"/>
<circle cx="464.32" cy="113.60" r="2.9" fill="#ffd264"/>
<circle cx="460.42" cy="125.10" r="2.9" fill="#fff200"/>
<circle cx="460.42" cy="134.10" r="2.9" fill="#ff2000"/>
<circle cx="524.42" cy="46.80" r="2.9" fill="#80f000"/>
<circle cx="548.12" cy="48.00" r="2.9" fill="#0a9a0a"/>
<circle cx="530.82" cy="91.90" r="2.9" fill="#ff80dc"/>
<circle cx="530.82" cy="105.30" r="2.9" fill="#c4c4c4"/>
<circle cx="530.82" cy="114.90" r="2.9" fill="#00f895"/>
<circle cx="534.62" cy="124.10" r="2.9" fill="#ff9000"/>
<circle cx="526.92" cy="126.10" r="2.9" fill="#fff200"/>
<circle cx="534.62" cy="133.10" r="2.9" fill="#ff2000"/>
<circle cx="526.92" cy="135.10" r="2.9" fill="#ffd264"/>
<circle cx="585.42" cy="48.80" r="2.9" fill="#80f000"/>
<circle cx="609.12" cy="48.90" r="2.9" fill="#0a9a0a"/>
<circle cx="597.02" cy="96.70" r="2.9" fill="#00f895"/>
<circle cx="605.02" cy="94.40" r="2.9" fill="#ff80dc"/>
<circle cx="601.12" cy="114.90" r="2.9" fill="#ff9000"/>
<circle cx="601.12" cy="119.70" r="2.9" fill="#c4c4c4"/>
<circle cx="601.12" cy="129.70" r="2.9" fill="#ffd264"/>
<circle cx="605.02" cy="138.40" r="2.9" fill="#ff2000"/>
<circle cx="596.92" cy="142.10" r="2.9" fill="#fff200"/>
<circle cx="666.6" cy="62.90" r="2.9" fill="#80f000"/>
<circle cx="666.6" cy="76.70" r="2.9" fill="#00f895"/>
<circle cx="666.6" cy="90.50" r="2.9" fill="#0a9a0a"/>
<circle cx="666.6" cy="104.30" r="2.9" fill="#fff200"/>
<circle cx="666.6" cy="118.10" r="2.9" fill="#ff9000"/>
<circle cx="666.6" cy="131.90" r="2.9" fill="#ffd264"/>
<circle cx="666.6" cy="145.70" r="2.9" fill="#ff80dc"/>
<circle cx="666.6" cy="159.50" r="2.9" fill="#ff2000"/>
<circle cx="666.6" cy="173.30" r="2.9" fill="#c4c4c4"/>
</g>
<g font-family="Liberation Sans, Arial, sans-serif" font-size="10.55" fill="#000" stroke="#000" stroke-width="0.25">
<text transform="translate(673.70,66.20) scale(1.055,1)">S8V6 P5-C6</text>
<text transform="translate(673.70,80.00) scale(1.055,1)">S8V6 P7-H9</text>
<text transform="translate(673.70,93.80) scale(1.055,1)">S8V6 P10-G1</text>
<text transform="translate(673.70,107.60) scale(1.055,1)">S1V4 P4-C5</text>
<text transform="translate(673.70,121.40) scale(1.055,1)">S5V4 P1-A2</text>
<text transform="translate(673.70,135.20) scale(1.055,1)">S5V4 P2-D2</text>
<text transform="translate(673.70,149.00) scale(1.055,1)">S12V4 P1-F1</text>
<text transform="translate(673.70,162.80) scale(1.055,1)">S12V6 P7-H4</text>
<text transform="translate(673.70,176.60) scale(1.055,1)">S8V1-157r</text>
<text transform="translate(673.90,190.10) scale(1.075,1)">(recombinant Ab ctrl)</text>
</g>
<rect x="6.70" y="236.20" width="73.30" height="9.70" fill="#efefef"/>
<rect x="81.00" y="236.20" width="52.97" height="9.70" fill="#efefef"/>
<rect x="134.97" y="236.20" width="52.97" height="9.70" fill="#efefef"/>
<rect x="188.94" y="236.20" width="52.97" height="9.70" fill="#efefef"/>
<rect x="242.91" y="236.20" width="52.97" height="9.70" fill="#efefef"/>
<rect x="296.88" y="236.20" width="52.97" height="9.70" fill="#efefef"/>
<rect x="350.85" y="236.20" width="52.97" height="9.70" fill="#efefef"/>
<rect x="404.82" y="236.20" width="52.97" height="9.70" fill="#efefef"/>
<rect x="458.79" y="236.20" width="52.97" height="9.70" fill="#efefef"/>
<rect x="512.76" y="236.20" width="52.97" height="9.70" fill="#efefef"/>
<rect x="566.73" y="236.20" width="52.97" height="9.70" fill="#efefef"/>
<rect x="620.70" y="236.20" width="52.97" height="9.70" fill="#efefef"/>
<rect x="674.67" y="236.20" width="52.97" height="9.70" fill="#efefef"/>
<rect x="728.64" y="236.20" width="52.97" height="9.70" fill="#efefef"/>
<rect x="81.00" y="245.90" width="52.97" height="11.20" fill="#fc2b31"/>
<rect x="188.94" y="245.90" width="52.97" height="11.20" fill="#fc2b31"/>
<rect x="620.70" y="245.90" width="52.97" height="11.20" fill="#ffc103"/>
<rect x="674.67" y="245.90" width="52.97" height="11.20" fill="#ffc103"/>
<rect x="242.91" y="257.10" width="52.97" height="11.10" fill="#ffc103"/>
<rect x="296.88" y="257.10" width="52.97" height="11.10" fill="#ffc103"/>
<rect x="350.85" y="257.10" width="52.97" height="11.10" fill="#ffc103"/>
<rect x="404.82" y="257.10" width="52.97" height="11.10" fill="#ffc103"/>
<rect x="620.70" y="257.10" width="52.97" height="11.10" fill="#fc2b31"/>
<rect x="674.67" y="257.10" width="52.97" height="11.10" fill="#fc2b31"/>
<rect x="81.00" y="268.20" width="52.97" height="11.20" fill="#fc2b31"/>
<rect x="188.94" y="268.20" width="52.97" height="11.20" fill="#ffc103"/>
<rect x="620.70" y="268.20" width="52.97" height="11.20" fill="#ffc103"/>
<rect x="728.64" y="268.20" width="52.97" height="11.20" fill="#ffc103"/>
<rect x="81.00" y="279.40" width="52.97" height="11.00" fill="#ffc103"/>
<rect x="134.97" y="279.40" width="52.97" height="11.00" fill="#ffff66"/>
<rect x="242.91" y="279.40" width="52.97" height="11.00" fill="#ffc103"/>
<rect x="296.88" y="279.40" width="52.97" height="11.00" fill="#ffff66"/>
<rect x="350.85" y="279.40" width="52.97" height="11.00" fill="#ffff66"/>
<rect x="404.82" y="279.40" width="52.97" height="11.00" fill="#ffff66"/>
<rect x="458.79" y="279.40" width="52.97" height="11.00" fill="#ffff66"/>
<rect x="512.76" y="279.40" width="52.97" height="11.00" fill="#dadbd7"/>
<rect x="620.70" y="279.40" width="52.97" height="11.00" fill="#ffc103"/>
<rect x="674.67" y="279.40" width="52.97" height="11.00" fill="#ffc103"/>
<rect x="134.97" y="290.40" width="52.97" height="11.10" fill="#ffff66"/>
<rect x="242.91" y="290.40" width="52.97" height="11.10" fill="#ffc103"/>
<rect x="296.88" y="290.40" width="52.97" height="11.10" fill="#ffc103"/>
<rect x="350.85" y="290.40" width="52.97" height="11.10" fill="#ffc103"/>
<rect x="404.82" y="290.40" width="52.97" height="11.10" fill="#fc2b31"/>
<rect x="620.70" y="290.40" width="52.97" height="11.10" fill="#ffc103"/>
<rect x="674.67" y="290.40" width="52.97" height="11.10" fill="#ffc103"/>
<rect x="134.97" y="301.50" width="52.97" height="11.10" fill="#ffff66"/>
<rect x="188.94" y="301.50" width="52.97" height="11.10" fill="#dadbd7"/>
<rect x="242.91" y="301.50" width="52.97" height="11.10" fill="#ffc103"/>
<rect x="296.88" y="301.50" width="52.97" height="11.10" fill="#fc2b31"/>
<rect x="350.85" y="301.50" width="52.97" height="11.10" fill="#ffc103"/>
<rect x="404.82" y="301.50" width="52.97" height="11.10" fill="#fc2b31"/>
<rect x="620.70" y="301.50" width="52.97" height="11.10" fill="#ffc103"/>
<rect x="674.67" y="301.50" width="52.97" height="11.10" fill="#ffc103"/>
<rect x="81.00" y="312.60" width="52.97" height="11.10" fill="#ffc103"/>
<rect x="134.97" y="312.60" width="52.97" height="11.10" fill="#ffc103"/>
<rect x="188.94" y="312.60" width="52.97" height="11.10" fill="#dadbd7"/>
<rect x="242.91" y="312.60" width="52.97" height="11.10" fill="#ffff66"/>
<rect x="296.88" y="312.60" width="52.97" height="11.10" fill="#ffff66"/>
<rect x="350.85" y="312.60" width="52.97" height="11.10" fill="#ffc103"/>
<rect x="404.82" y="312.60" width="52.97" height="11.10" fill="#ffff66"/>
<rect x="458.79" y="312.60" width="52.97" height="11.10" fill="#ffc103"/>
<rect x="620.70" y="312.60" width="52.97" height="11.10" fill="#ffc103"/>
<rect x="674.67" y="312.60" width="52.97" height="11.10" fill="#ffc103"/>
<rect x="134.97" y="323.70" width="52.97" height="11.00" fill="#ffff66"/>
<rect x="242.91" y="323.70" width="52.97" height="11.00" fill="#dadbd7"/>
<rect x="296.88" y="323.70" width="52.97" height="11.00" fill="#ffc103"/>
<rect x="350.85" y="323.70" width="52.97" height="11.00" fill="#ffc103"/>
<rect x="404.82" y="323.70" width="52.97" height="11.00" fill="#ffff66"/>
<rect x="620.70" y="323.70" width="52.97" height="11.00" fill="#ffc103"/>
<rect x="674.67" y="323.70" width="52.97" height="11.00" fill="#ffc103"/>
<g stroke="#0a0a0a" stroke-width="1.1" fill="none">
<line x1="5.2" y1="235.1" x2="782.01" y2="235.1"/>
<line x1="5.2" y1="245.9" x2="782.01" y2="245.9"/>
<line x1="5.2" y1="257.1" x2="782.01" y2="257.1"/>
<line x1="5.2" y1="268.2" x2="782.01" y2="268.2"/>
<line x1="5.2" y1="279.4" x2="782.01" y2="279.4"/>
<line x1="5.2" y1="290.4" x2="782.01" y2="290.4"/>
<line x1="5.2" y1="301.5" x2="782.01" y2="301.5"/>
<line x1="5.2" y1="312.6" x2="782.01" y2="312.6"/>
<line x1="5.2" y1="323.7" x2="782.01" y2="323.7"/>
<line x1="5.2" y1="334.7" x2="782.01" y2="334.7"/>
<line x1="5.70" y1="235.1" x2="5.70" y2="334.7"/>
<line x1="80.00" y1="235.1" x2="80.00" y2="334.7"/>
<line x1="133.97" y1="235.1" x2="133.97" y2="334.7"/>
<line x1="187.94" y1="235.1" x2="187.94" y2="334.7"/>
<line x1="241.91" y1="235.1" x2="241.91" y2="334.7"/>
<line x1="295.88" y1="235.1" x2="295.88" y2="334.7"/>
<line x1="349.85" y1="235.1" x2="349.85" y2="334.7"/>
<line x1="403.82" y1="235.1" x2="403.82" y2="334.7"/>
<line x1="457.79" y1="235.1" x2="457.79" y2="334.7"/>
<line x1="511.76" y1="235.1" x2="511.76" y2="334.7"/>
<line x1="565.73" y1="235.1" x2="565.73" y2="334.7"/>
<line x1="619.70" y1="235.1" x2="619.70" y2="334.7"/>
<line x1="673.67" y1="235.1" x2="673.67" y2="334.7" stroke="#333" stroke-width="0.5"/>
<line x1="727.64" y1="235.1" x2="727.64" y2="334.7" stroke="#333" stroke-width="0.5"/>
<line x1="781.61" y1="235.1" x2="781.61" y2="334.7" stroke="#333" stroke-width="0.7"/>
</g>
<g font-family="Liberation Sans, Arial, sans-serif" font-size="10.55" text-anchor="middle" fill="#000" stroke="#000" stroke-width="0.25">
<text transform="translate(42.65,255.10) scale(1.055,1)" text-anchor="middle">S8V5 P5-C6</text>
<text transform="translate(107.14,255.10) scale(1.055,1)" text-anchor="middle">211,868</text>
<text transform="translate(163.35,255.10) scale(1.055,1)" text-anchor="middle" fill="#939393" stroke="#939393">N.D.</text>
<text transform="translate(215.08,255.10) scale(1.055,1)" text-anchor="middle">108,575</text>
<text transform="translate(487.17,255.10) scale(1.055,1)" text-anchor="middle" fill="#939393" stroke="#939393">N.D.</text>
<text transform="translate(646.83,255.10) scale(1.055,1)" text-anchor="middle">85,808</text>
<text transform="translate(700.80,255.10) scale(1.055,1)" text-anchor="middle">80,971</text>
<text transform="translate(42.65,266.20) scale(1.055,1)" text-anchor="middle">S8V6 P7-H9</text>
<text transform="translate(163.35,266.20) scale(1.055,1)" text-anchor="middle" fill="#939393" stroke="#939393">N.D.</text>
<text transform="translate(269.04,266.20) scale(1.055,1)" text-anchor="middle">57,232</text>
<text transform="translate(323.01,266.20) scale(1.055,1)" text-anchor="middle">41,063</text>
<text transform="translate(376.99,266.20) scale(1.055,1)" text-anchor="middle">17,839</text>
<text transform="translate(430.95,266.20) scale(1.055,1)" text-anchor="middle">35,872</text>
<text transform="translate(487.17,266.20) scale(1.055,1)" text-anchor="middle" fill="#939393" stroke="#939393">N.D.</text>
<text transform="translate(646.83,266.20) scale(1.055,1)" text-anchor="middle">100,560</text>
<text transform="translate(700.80,266.20) scale(1.055,1)" text-anchor="middle">104,082</text>
<text transform="translate(42.65,277.40) scale(1.055,1)" text-anchor="middle">S8V6 P10-G1</text>
<text transform="translate(107.14,277.40) scale(1.055,1)" text-anchor="middle">183,143</text>
<text transform="translate(163.35,277.40) scale(1.055,1)" text-anchor="middle" fill="#939393" stroke="#939393">N.D.</text>
<text transform="translate(215.08,277.40) scale(1.055,1)" text-anchor="middle">27,673</text>
<text transform="translate(487.17,277.40) scale(1.055,1)" text-anchor="middle" fill="#939393" stroke="#939393">N.D.</text>
<text transform="translate(646.83,277.40) scale(1.055,1)" text-anchor="middle">80,617</text>
<text transform="translate(754.77,277.40) scale(1.055,1)" text-anchor="middle">65,397</text>
<text transform="translate(42.65,288.40) scale(1.055,1)" text-anchor="middle">S1V4 P4-C5</text>
<text transform="translate(107.14,288.40) scale(1.055,1)" text-anchor="middle">11,528</text>
<text transform="translate(161.10,288.40) scale(1.055,1)" text-anchor="middle">2,664</text>
<text transform="translate(269.04,288.40) scale(1.055,1)" text-anchor="middle">26,677</text>
<text transform="translate(323.01,288.40) scale(1.055,1)" text-anchor="middle">1,387</text>
<text transform="translate(376.99,288.40) scale(1.055,1)" text-anchor="middle">13,996</text>
<text transform="translate(430.95,288.40) scale(1.055,1)" text-anchor="middle">7,592</text>
<text transform="translate(484.92,288.40) scale(1.055,1)" text-anchor="middle">2,315</text>
<text transform="translate(538.89,288.40) scale(1.055,1)" text-anchor="middle">200</text>
<text transform="translate(646.83,288.40) scale(1.055,1)" text-anchor="middle">64,575</text>
<text transform="translate(700.80,288.40) scale(1.055,1)" text-anchor="middle">78,170</text>
<text transform="translate(42.65,299.50) scale(1.055,1)" text-anchor="middle">S5V4 P1-A2</text>
<text transform="translate(161.10,299.50) scale(1.055,1)" text-anchor="middle">1,555</text>
<text transform="translate(269.04,299.50) scale(1.055,1)" text-anchor="middle">53,091</text>
<text transform="translate(323.01,299.50) scale(1.055,1)" text-anchor="middle">67,485</text>
<text transform="translate(376.99,299.50) scale(1.055,1)" text-anchor="middle">29,348</text>
<text transform="translate(430.95,299.50) scale(1.055,1)" text-anchor="middle">111,273</text>
<text transform="translate(646.83,299.50) scale(1.055,1)" text-anchor="middle">64,266</text>
<text transform="translate(700.80,299.50) scale(1.055,1)" text-anchor="middle">74,232</text>
<text transform="translate(42.65,310.60) scale(1.055,1)" text-anchor="middle">S5V4 P2-D2</text>
<text transform="translate(161.10,310.60) scale(1.055,1)" text-anchor="middle">2,711</text>
<text transform="translate(215.08,310.60) scale(1.055,1)" text-anchor="middle">200</text>
<text transform="translate(269.04,310.60) scale(1.055,1)" text-anchor="middle">93,375</text>
<text transform="translate(323.01,310.60) scale(1.055,1)" text-anchor="middle">105,075</text>
<text transform="translate(376.99,310.60) scale(1.055,1)" text-anchor="middle">79,837</text>
<text transform="translate(430.95,310.60) scale(1.055,1)" text-anchor="middle">166,328</text>
<text transform="translate(646.83,310.60) scale(1.055,1)" text-anchor="middle">82,873</text>
<text transform="translate(700.80,310.60) scale(1.055,1)" text-anchor="middle">91,355</text>
<text transform="translate(42.65,321.70) scale(1.055,1)" text-anchor="middle">S12V4 P1-F1</text>
<text transform="translate(107.14,321.70) scale(1.055,1)" text-anchor="middle">42,514</text>
<text transform="translate(161.10,321.70) scale(1.055,1)" text-anchor="middle">19,363</text>
<text transform="translate(215.08,321.70) scale(1.055,1)" text-anchor="middle">600</text>
<text transform="translate(269.04,321.70) scale(1.055,1)" text-anchor="middle">9,458</text>
<text transform="translate(323.01,321.70) scale(1.055,1)" text-anchor="middle">3,555</text>
<text transform="translate(376.99,321.70) scale(1.055,1)" text-anchor="middle">22,409</text>
<text transform="translate(430.95,321.70) scale(1.055,1)" text-anchor="middle">5,793</text>
<text transform="translate(484.92,321.70) scale(1.055,1)" text-anchor="middle">16,648</text>
<text transform="translate(646.83,321.70) scale(1.055,1)" text-anchor="middle">59,983</text>
<text transform="translate(700.80,321.70) scale(1.055,1)" text-anchor="middle">73,887</text>
<text transform="translate(42.65,332.70) scale(1.055,1)" text-anchor="middle">S12V6 P7-H4</text>
<text transform="translate(161.10,332.70) scale(1.055,1)" text-anchor="middle">1,225</text>
<text transform="translate(269.04,332.70) scale(1.055,1)" text-anchor="middle">600</text>
<text transform="translate(323.01,332.70) scale(1.055,1)" text-anchor="middle">18,737</text>
<text transform="translate(376.99,332.70) scale(1.055,1)" text-anchor="middle">11,681</text>
<text transform="translate(430.95,332.70) scale(1.055,1)" text-anchor="middle">1,041</text>
<text transform="translate(646.83,332.70) scale(1.055,1)" text-anchor="middle">66,471</text>
<text transform="translate(700.80,332.70) scale(1.055,1)" text-anchor="middle">68,493</text>
<text transform="translate(44.85,244.30) scale(1.03,1)" text-anchor="middle" font-weight="bold">Antibody</text>
<text transform="translate(107.28,244.30) scale(1.03,1)" text-anchor="middle" font-weight="bold">H1 2009 X</text>
<text transform="translate(161.25,244.30) scale(1.03,1)" text-anchor="middle" font-weight="bold">H1 2009</text>
<text transform="translate(215.23,244.30) scale(1.03,1)" text-anchor="middle" font-weight="bold">H1 2006</text>
<text transform="translate(269.19,244.30) scale(1.03,1)" text-anchor="middle" font-weight="bold">H3 1968</text>
<text transform="translate(323.17,244.30) scale(1.03,1)" text-anchor="middle" font-weight="bold">H3 2005</text>
<text transform="translate(377.14,244.30) scale(1.03,1)" text-anchor="middle" font-weight="bold">H3 2014<tspan font-size="6.3" dy="-3.4" font-weight="normal">a</tspan></text>
<text transform="translate(431.10,244.30) scale(1.03,1)" text-anchor="middle" font-weight="bold">H3 2014<tspan font-size="6.3" dy="-3.4" font-weight="normal">b</tspan></text>
<text transform="translate(485.07,244.30) scale(1.03,1)" text-anchor="middle" font-weight="bold">H5 2004</text>
<text transform="translate(539.04,244.30) scale(1.03,1)" text-anchor="middle" font-weight="bold">BYam2013</text>
<text transform="translate(593.01,244.30) scale(1.03,1)" text-anchor="middle" font-weight="bold">BVic 2004</text>
<text transform="translate(646.98,244.30) scale(1.03,1)" text-anchor="middle" font-weight="bold">IgG</text>
<text transform="translate(700.95,244.30) scale(1.03,1)" text-anchor="middle" font-weight="bold">Ig<tspan font-weight="normal">κ</tspan></text>
<text transform="translate(754.92,244.30) scale(1.03,1)" text-anchor="middle" font-weight="bold">Ig<tspan font-weight="normal">λ</tspan></text>
</g>
<rect x="5.6" y="338.9" width="400.2" height="10.70" fill="#f0f0f0"/>
<rect x="6.50" y="349.6" width="78.30" height="10.50" fill="#ffffff"/>
<rect x="85.70" y="349.6" width="78.60" height="10.50" fill="#d9d9d6"/>
<rect x="165.20" y="349.6" width="79.70" height="10.50" fill="#ffff00"/>
<rect x="245.80" y="349.6" width="79.50" height="10.50" fill="#ffb700"/>
<rect x="326.20" y="349.6" width="79.60" height="10.50" fill="#ff0000"/>
<g stroke="#1c1c1c" stroke-width="1" fill="none">
<rect x="5.6" y="338.9" width="400.2" height="21.20"/>
<line x1="5.6" y1="349.6" x2="405.8" y2="349.6"/>
<line x1="84.8" y1="349.6" x2="84.8" y2="360.1" stroke-width="0.9"/>
<line x1="164.3" y1="349.6" x2="164.3" y2="360.1" stroke-width="0.9"/>
<line x1="244.9" y1="349.6" x2="244.9" y2="360.1" stroke-width="0.6"/>
<line x1="325.3" y1="349.6" x2="325.3" y2="360.1" stroke-width="0.6"/>
</g>
<g font-family="Liberation Sans, Arial, sans-serif" font-size="10.55" text-anchor="middle" fill="#000" stroke="#000" stroke-width="0.25">
<text transform="translate(205.20,348.30) scale(1.055,1)" text-anchor="middle" font-weight="bold">MFI</text>
<text transform="translate(43.20,358.40) scale(1.055,1)" text-anchor="middle">&lt;100</text>
<text transform="translate(125.05,358.40) scale(1.055,1)" text-anchor="middle">100-1,000</text>
<text transform="translate(205.10,358.40) scale(1.055,1)" text-anchor="middle">1,000-10,000</text>
<text transform="translate(285.60,358.40) scale(1.055,1)" text-anchor="middle">10,000-100,000</text>
<text transform="translate(366.05,358.40) scale(1.055,1)" text-anchor="middle">&gt;100,000</text>
</g>
</svg>
</body></html>
